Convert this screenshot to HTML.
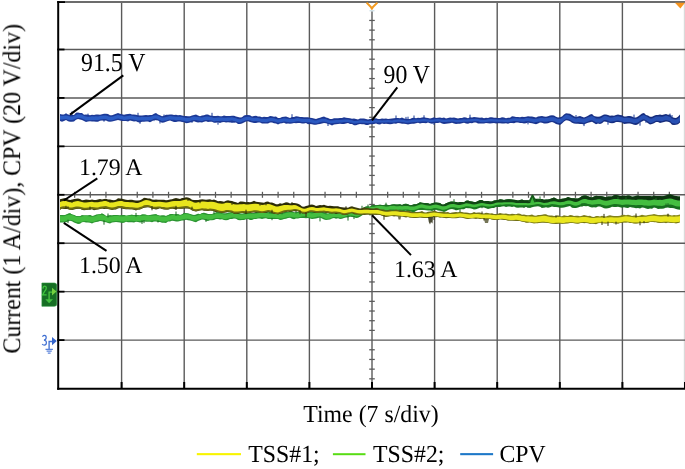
<!DOCTYPE html>
<html><head><meta charset="utf-8"><style>
html,body{margin:0;padding:0;background:#fff;width:685px;height:469px;overflow:hidden}
svg{position:absolute;left:0;top:0}
text{font-family:"Liberation Serif",serif;fill:#000;white-space:pre;text-rendering:geometricPrecision}
</style></head><body>
<svg width="685" height="469" viewBox="0 0 685 469">
<line x1="684.4" y1="2" x2="684.4" y2="388" stroke="#dadada" stroke-width="1.2"/>
<g stroke="#5a5a5a" stroke-width="1.4" fill="none">
<line x1="121.60" y1="2" x2="121.60" y2="388"/>
<line x1="184.20" y1="2" x2="184.20" y2="388"/>
<line x1="246.80" y1="2" x2="246.80" y2="388"/>
<line x1="309.40" y1="2" x2="309.40" y2="388"/>
<line x1="372.00" y1="11.3" x2="372.00" y2="388"/>
<line x1="434.60" y1="2" x2="434.60" y2="388"/>
<line x1="497.20" y1="2" x2="497.20" y2="388"/>
<line x1="559.80" y1="2" x2="559.80" y2="388"/>
<line x1="622.40" y1="2" x2="622.40" y2="388"/>
<line x1="58" y1="49.50" x2="685" y2="49.50"/>
<line x1="58" y1="97.93" x2="685" y2="97.93"/>
<line x1="58" y1="146.36" x2="685" y2="146.36"/>
<line x1="58" y1="194.79" x2="685" y2="194.79"/>
<line x1="58" y1="243.22" x2="685" y2="243.22"/>
<line x1="58" y1="291.65" x2="685" y2="291.65"/>
<line x1="58" y1="340.08" x2="685" y2="340.08"/>
<line x1="58" y1="2.1" x2="685" y2="2.1" stroke-width="2" stroke="#6c6c6c"/>
</g>
<g stroke="#5a5a5a" stroke-width="1.25">
<line x1="369.5" y1="10.76" x2="374.5" y2="10.76" stroke="#c9dde6"/>
<line x1="369.2" y1="20.44" x2="374.8" y2="20.44"/>
<line x1="369.2" y1="30.13" x2="374.8" y2="30.13"/>
<line x1="369.2" y1="39.81" x2="374.8" y2="39.81"/>
<line x1="369.2" y1="59.19" x2="374.8" y2="59.19"/>
<line x1="369.2" y1="68.87" x2="374.8" y2="68.87"/>
<line x1="369.2" y1="78.56" x2="374.8" y2="78.56"/>
<line x1="369.2" y1="88.24" x2="374.8" y2="88.24"/>
<line x1="369.2" y1="107.62" x2="374.8" y2="107.62"/>
<line x1="369.2" y1="117.30" x2="374.8" y2="117.30"/>
<line x1="369.2" y1="126.99" x2="374.8" y2="126.99"/>
<line x1="369.2" y1="136.67" x2="374.8" y2="136.67"/>
<line x1="369.2" y1="156.05" x2="374.8" y2="156.05"/>
<line x1="369.2" y1="165.73" x2="374.8" y2="165.73"/>
<line x1="369.2" y1="175.42" x2="374.8" y2="175.42"/>
<line x1="369.2" y1="185.10" x2="374.8" y2="185.10"/>
<line x1="369.2" y1="204.48" x2="374.8" y2="204.48"/>
<line x1="369.2" y1="214.16" x2="374.8" y2="214.16"/>
<line x1="369.2" y1="223.85" x2="374.8" y2="223.85"/>
<line x1="369.2" y1="233.53" x2="374.8" y2="233.53"/>
<line x1="369.2" y1="252.91" x2="374.8" y2="252.91"/>
<line x1="369.2" y1="262.59" x2="374.8" y2="262.59"/>
<line x1="369.2" y1="272.28" x2="374.8" y2="272.28"/>
<line x1="369.2" y1="281.96" x2="374.8" y2="281.96"/>
<line x1="369.2" y1="301.34" x2="374.8" y2="301.34"/>
<line x1="369.2" y1="311.02" x2="374.8" y2="311.02"/>
<line x1="369.2" y1="320.71" x2="374.8" y2="320.71"/>
<line x1="369.2" y1="330.39" x2="374.8" y2="330.39"/>
<line x1="369.2" y1="349.77" x2="374.8" y2="349.77"/>
<line x1="369.2" y1="359.45" x2="374.8" y2="359.45"/>
<line x1="369.2" y1="369.14" x2="374.8" y2="369.14"/>
<line x1="369.2" y1="378.82" x2="374.8" y2="378.82"/>
<line x1="74.65" y1="191.8" x2="74.65" y2="197.8"/>
<line x1="90.30" y1="191.8" x2="90.30" y2="197.8"/>
<line x1="105.95" y1="191.8" x2="105.95" y2="197.8"/>
<line x1="137.25" y1="191.8" x2="137.25" y2="197.8"/>
<line x1="152.90" y1="191.8" x2="152.90" y2="197.8"/>
<line x1="168.55" y1="191.8" x2="168.55" y2="197.8"/>
<line x1="199.85" y1="191.8" x2="199.85" y2="197.8"/>
<line x1="215.50" y1="191.8" x2="215.50" y2="197.8"/>
<line x1="231.15" y1="191.8" x2="231.15" y2="197.8"/>
<line x1="262.45" y1="191.8" x2="262.45" y2="197.8"/>
<line x1="278.10" y1="191.8" x2="278.10" y2="197.8"/>
<line x1="293.75" y1="191.8" x2="293.75" y2="197.8"/>
<line x1="325.05" y1="191.8" x2="325.05" y2="197.8"/>
<line x1="340.70" y1="191.8" x2="340.70" y2="197.8"/>
<line x1="356.35" y1="191.8" x2="356.35" y2="197.8"/>
<line x1="387.65" y1="191.8" x2="387.65" y2="197.8"/>
<line x1="403.30" y1="191.8" x2="403.30" y2="197.8"/>
<line x1="418.95" y1="191.8" x2="418.95" y2="197.8"/>
<line x1="450.25" y1="191.8" x2="450.25" y2="197.8"/>
<line x1="465.90" y1="191.8" x2="465.90" y2="197.8"/>
<line x1="481.55" y1="191.8" x2="481.55" y2="197.8"/>
<line x1="512.85" y1="191.8" x2="512.85" y2="197.8"/>
<line x1="528.50" y1="191.8" x2="528.50" y2="197.8"/>
<line x1="544.15" y1="191.8" x2="544.15" y2="197.8"/>
<line x1="575.45" y1="191.8" x2="575.45" y2="197.8"/>
<line x1="591.10" y1="191.8" x2="591.10" y2="197.8"/>
<line x1="606.75" y1="191.8" x2="606.75" y2="197.8"/>
<line x1="638.05" y1="191.8" x2="638.05" y2="197.8"/>
<line x1="653.70" y1="191.8" x2="653.70" y2="197.8"/>
<line x1="669.35" y1="191.8" x2="669.35" y2="197.8"/>
</g>
<defs><linearGradient id="gyd" gradientUnits="userSpaceOnUse" x1="60" y1="0" x2="680" y2="0"><stop offset="0" stop-color="#2a2a06"/><stop offset="0.45" stop-color="#2c2c08"/><stop offset="0.55" stop-color="#6a6a14"/><stop offset="1" stop-color="#8a8a1c"/></linearGradient><linearGradient id="ggd" gradientUnits="userSpaceOnUse" x1="60" y1="0" x2="680" y2="0"><stop offset="0" stop-color="#2c9632"/><stop offset="0.45" stop-color="#27902e"/><stop offset="0.62" stop-color="#1b7a22"/><stop offset="1" stop-color="#166e1e"/></linearGradient><linearGradient id="ggt" gradientUnits="userSpaceOnUse" x1="60" y1="0" x2="680" y2="0"><stop offset="0" stop-color="#2c9632"/><stop offset="0.45" stop-color="#27902e"/><stop offset="0.62" stop-color="#124a16"/><stop offset="1" stop-color="#0b300e"/></linearGradient><linearGradient id="gbd" gradientUnits="userSpaceOnUse" x1="60" y1="0" x2="680" y2="0"><stop offset="0" stop-color="#1c3a98"/><stop offset="0.75" stop-color="#1a3590"/><stop offset="1" stop-color="#142a78"/></linearGradient><linearGradient id="gbi" gradientUnits="userSpaceOnUse" x1="60" y1="0" x2="680" y2="0"><stop offset="0" stop-color="#2c5ec6"/><stop offset="0.45" stop-color="#2a58bf"/><stop offset="0.75" stop-color="#2a56bc"/><stop offset="1" stop-color="#2850b2"/></linearGradient></defs>
<path d="M60.0,114.1 L62.0,114.5 L64.0,114.5 L66.0,113.2 L68.0,114.4 L70.0,114.8 L72.0,114.9 L74.0,114.9 L76.0,112.8 L78.0,112.5 L80.0,113.0 L82.0,113.0 L84.0,114.7 L86.0,114.6 L88.0,114.8 L90.0,115.2 L92.0,114.7 L94.0,115.1 L96.0,114.4 L98.0,114.4 L100.0,114.8 L102.0,114.3 L104.0,113.8 L106.0,113.7 L108.0,114.1 L110.0,115.3 L112.0,115.2 L114.0,114.5 L116.0,113.8 L118.0,112.9 L120.0,113.7 L122.0,114.3 L124.0,114.8 L126.0,114.3 L128.0,114.1 L130.0,113.7 L132.0,114.5 L134.0,114.6 L136.0,114.7 L138.0,115.2 L140.0,115.6 L142.0,115.6 L144.0,115.3 L146.0,115.1 L148.0,115.3 L150.0,115.1 L152.0,115.1 L154.0,113.7 L156.0,113.0 L158.0,114.4 L160.0,115.3 L162.0,116.3 L164.0,115.8 L166.0,114.8 L168.0,114.7 L170.0,114.5 L172.0,114.6 L174.0,114.9 L176.0,114.7 L178.0,115.3 L180.0,115.1 L182.0,115.4 L184.0,115.9 L186.0,116.1 L188.0,116.2 L190.0,116.2 L192.0,115.4 L194.0,115.0 L196.0,114.6 L198.0,115.4 L200.0,116.2 L202.0,115.6 L204.0,115.2 L206.0,114.6 L208.0,114.6 L210.0,115.4 L212.0,115.8 L214.0,116.1 L216.0,115.9 L218.0,115.7 L220.0,116.2 L222.0,116.2 L224.0,115.4 L226.0,116.1 L228.0,115.9 L230.0,116.1 L232.0,115.7 L234.0,115.7 L236.0,116.4 L238.0,117.1 L240.0,117.6 L242.0,117.3 L244.0,115.4 L246.0,115.0 L248.0,115.0 L250.0,115.3 L252.0,116.5 L254.0,116.1 L256.0,115.8 L258.0,116.5 L260.0,116.6 L262.0,117.2 L264.0,116.8 L266.0,116.9 L268.0,117.1 L270.0,116.1 L272.0,116.2 L274.0,116.7 L276.0,116.5 L278.0,117.9 L280.0,117.9 L282.0,116.9 L284.0,116.8 L286.0,116.6 L288.0,117.3 L290.0,118.0 L292.0,117.0 L294.0,117.0 L296.0,116.2 L298.0,116.6 L300.0,117.0 L302.0,116.9 L304.0,117.3 L306.0,117.2 L308.0,117.3 L310.0,117.7 L312.0,117.9 L314.0,118.5 L316.0,119.0 L318.0,118.3 L320.0,117.8 L322.0,117.0 L324.0,116.6 L326.0,117.6 L328.0,118.1 L330.0,119.1 L332.0,118.9 L334.0,118.2 L336.0,118.3 L338.0,118.2 L340.0,118.1 L342.0,118.0 L344.0,117.3 L346.0,117.8 L348.0,118.0 L350.0,118.3 L352.0,118.8 L354.0,118.6 L356.0,119.0 L358.0,119.6 L360.0,118.6 L362.0,118.6 L364.0,118.5 L366.0,119.0 L368.0,119.5 L370.0,119.0 L372.0,118.7 L374.0,118.5 L376.0,118.3 L378.0,119.0 L380.0,118.9 L382.0,118.4 L384.0,118.8 L386.0,118.5 L388.0,119.0 L390.0,118.7 L392.0,118.5 L394.0,118.3 L396.0,117.9 L398.0,118.0 L400.0,118.2 L402.0,117.5 L404.0,118.6 L406.0,118.7 L408.0,119.1 L410.0,119.0 L412.0,118.0 L414.0,117.7 L416.0,118.3 L418.0,117.8 L420.0,118.0 L422.0,117.5 L424.0,117.3 L426.0,117.7 L428.0,117.9 L430.0,118.5 L432.0,117.9 L434.0,117.2 L436.0,118.0 L438.0,117.7 L440.0,117.4 L442.0,118.0 L444.0,117.4 L446.0,118.5 L448.0,117.9 L450.0,117.4 L452.0,117.8 L454.0,117.4 L456.0,118.1 L458.0,118.5 L460.0,118.0 L462.0,118.0 L464.0,117.3 L466.0,117.5 L468.0,118.2 L470.0,117.2 L472.0,117.4 L474.0,117.1 L476.0,117.3 L478.0,117.5 L480.0,117.8 L482.0,117.6 L484.0,118.3 L486.0,117.8 L488.0,118.1 L490.0,117.2 L492.0,117.2 L494.0,117.7 L496.0,117.7 L498.0,117.9 L500.0,117.9 L502.0,117.3 L504.0,117.6 L506.0,118.3 L508.0,117.8 L510.0,117.7 L512.0,116.3 L514.0,116.6 L516.0,117.1 L518.0,116.9 L520.0,117.2 L522.0,116.7 L524.0,116.9 L526.0,116.8 L528.0,116.2 L530.0,116.6 L532.0,116.5 L534.0,117.0 L536.0,117.6 L538.0,116.6 L540.0,116.3 L542.0,116.0 L544.0,116.6 L546.0,116.7 L548.0,116.3 L550.0,115.5 L552.0,115.3 L554.0,115.4 L556.0,116.8 L558.0,117.6 L560.0,117.2 L562.0,116.4 L564.0,114.4 L566.0,113.3 L568.0,113.4 L570.0,113.8 L572.0,115.1 L574.0,116.3 L576.0,117.0 L578.0,116.6 L580.0,116.0 L582.0,116.8 L584.0,117.4 L586.0,116.7 L588.0,115.8 L590.0,114.5 L592.0,113.9 L594.0,115.9 L596.0,116.6 L598.0,116.8 L600.0,116.6 L602.0,115.5 L604.0,114.5 L606.0,114.6 L608.0,115.0 L610.0,115.7 L612.0,115.4 L614.0,115.8 L616.0,115.0 L618.0,114.5 L620.0,115.1 L622.0,115.2 L624.0,116.6 L626.0,116.5 L628.0,116.1 L630.0,116.0 L632.0,116.6 L634.0,117.6 L636.0,117.5 L638.0,116.4 L640.0,114.9 L642.0,113.5 L644.0,113.1 L646.0,115.1 L648.0,115.5 L650.0,116.7 L652.0,116.7 L654.0,115.8 L656.0,115.0 L658.0,114.9 L660.0,114.5 L662.0,115.1 L664.0,114.6 L666.0,113.9 L668.0,114.8 L670.0,114.5 L672.0,117.1 L674.0,117.8 L676.0,117.9 L678.0,116.8 L680.0,114.6 L680.0,122.6 L678.0,124.3 L676.0,124.8 L674.0,125.0 L672.0,124.8 L670.0,122.6 L668.0,121.8 L666.0,121.6 L664.0,121.9 L662.0,122.6 L660.0,123.1 L658.0,122.1 L656.0,122.0 L654.0,123.2 L652.0,124.0 L650.0,124.5 L648.0,123.2 L646.0,121.8 L644.0,120.5 L642.0,121.4 L640.0,122.5 L638.0,124.3 L636.0,125.1 L634.0,124.7 L632.0,123.9 L630.0,123.6 L628.0,123.5 L626.0,123.7 L624.0,124.1 L622.0,122.5 L620.0,122.2 L618.0,122.0 L616.0,122.1 L614.0,122.9 L612.0,123.3 L610.0,123.0 L608.0,122.2 L606.0,121.8 L604.0,121.6 L602.0,123.3 L600.0,123.9 L598.0,123.6 L596.0,124.2 L594.0,122.9 L592.0,121.7 L590.0,122.3 L588.0,122.8 L586.0,123.6 L584.0,124.5 L582.0,124.0 L580.0,124.0 L578.0,123.7 L576.0,123.8 L574.0,123.4 L572.0,122.8 L570.0,121.2 L568.0,120.5 L566.0,120.3 L564.0,121.5 L562.0,123.6 L560.0,125.0 L558.0,124.6 L556.0,123.9 L554.0,122.8 L552.0,122.1 L550.0,122.5 L548.0,123.3 L546.0,123.5 L544.0,123.4 L542.0,122.8 L540.0,122.6 L538.0,123.4 L536.0,124.2 L534.0,123.8 L532.0,123.2 L530.0,122.9 L528.0,122.6 L526.0,123.3 L524.0,123.5 L522.0,122.9 L520.0,122.9 L518.0,122.4 L516.0,122.4 L514.0,123.3 L512.0,123.0 L510.0,123.0 L508.0,123.8 L506.0,123.3 L504.0,123.4 L502.0,123.6 L500.0,123.2 L498.0,123.2 L496.0,123.4 L494.0,123.0 L492.0,123.2 L490.0,123.4 L488.0,123.2 L486.0,123.1 L484.0,123.6 L482.0,123.6 L480.0,123.4 L478.0,123.4 L476.0,122.6 L474.0,122.6 L472.0,123.2 L470.0,123.1 L468.0,123.7 L466.0,123.5 L464.0,122.8 L462.0,123.2 L460.0,123.7 L458.0,123.8 L456.0,124.0 L454.0,123.5 L452.0,122.7 L450.0,123.3 L448.0,123.4 L446.0,123.7 L444.0,123.9 L442.0,123.5 L440.0,122.6 L438.0,123.0 L436.0,123.1 L434.0,123.2 L432.0,123.7 L430.0,123.3 L428.0,122.6 L426.0,123.3 L424.0,122.9 L422.0,123.1 L420.0,123.5 L418.0,122.8 L416.0,123.3 L414.0,123.7 L412.0,123.7 L410.0,124.0 L408.0,124.6 L406.0,124.0 L404.0,123.8 L402.0,123.7 L400.0,123.2 L398.0,123.1 L396.0,123.7 L394.0,123.6 L392.0,123.9 L390.0,124.3 L388.0,123.9 L386.0,123.7 L384.0,124.1 L382.0,123.4 L380.0,124.4 L378.0,124.3 L376.0,123.6 L374.0,123.9 L372.0,124.2 L370.0,124.3 L368.0,125.0 L366.0,125.1 L364.0,124.3 L362.0,124.3 L360.0,124.0 L358.0,124.6 L356.0,125.2 L354.0,125.3 L352.0,123.9 L350.0,124.0 L348.0,123.0 L346.0,123.5 L344.0,124.0 L342.0,124.1 L340.0,123.8 L338.0,124.1 L336.0,124.2 L334.0,124.6 L332.0,125.5 L330.0,124.6 L328.0,124.1 L326.0,123.2 L324.0,122.9 L322.0,123.6 L320.0,124.1 L318.0,124.2 L316.0,124.7 L314.0,124.7 L312.0,124.2 L310.0,123.9 L308.0,124.2 L306.0,122.9 L304.0,123.4 L302.0,123.6 L300.0,123.0 L298.0,122.9 L296.0,123.3 L294.0,123.0 L292.0,123.6 L290.0,123.7 L288.0,123.5 L286.0,123.7 L284.0,122.8 L282.0,123.2 L280.0,123.6 L278.0,124.4 L276.0,123.6 L274.0,123.3 L272.0,122.6 L270.0,122.4 L268.0,123.5 L266.0,123.6 L264.0,123.5 L262.0,123.6 L260.0,122.6 L258.0,122.5 L256.0,123.0 L254.0,123.0 L252.0,122.4 L250.0,122.0 L248.0,121.2 L246.0,121.6 L244.0,122.6 L242.0,123.5 L240.0,124.1 L238.0,124.0 L236.0,122.6 L234.0,122.7 L232.0,122.6 L230.0,122.4 L228.0,122.3 L226.0,122.5 L224.0,122.1 L222.0,122.3 L220.0,123.0 L218.0,122.2 L216.0,122.7 L214.0,122.7 L212.0,121.8 L210.0,121.8 L208.0,122.0 L206.0,121.3 L204.0,121.8 L202.0,122.4 L200.0,122.2 L198.0,122.6 L196.0,122.0 L194.0,121.2 L192.0,122.0 L190.0,122.5 L188.0,122.9 L186.0,123.3 L184.0,122.2 L182.0,121.9 L180.0,121.4 L178.0,121.5 L176.0,121.9 L174.0,122.0 L172.0,121.2 L170.0,120.5 L168.0,121.1 L166.0,121.7 L164.0,122.4 L162.0,122.8 L160.0,121.7 L158.0,120.4 L156.0,120.3 L154.0,120.1 L152.0,121.3 L150.0,122.3 L148.0,121.5 L146.0,121.6 L144.0,121.8 L142.0,121.8 L140.0,122.6 L138.0,122.3 L136.0,121.3 L134.0,121.4 L132.0,120.9 L130.0,120.5 L128.0,121.4 L126.0,121.0 L124.0,121.0 L122.0,120.9 L120.0,120.4 L118.0,120.0 L116.0,120.5 L114.0,121.1 L112.0,121.5 L110.0,121.7 L108.0,121.5 L106.0,120.4 L104.0,120.7 L102.0,120.6 L100.0,120.7 L98.0,121.8 L96.0,121.7 L94.0,121.6 L92.0,121.5 L90.0,121.2 L88.0,121.6 L86.0,122.1 L84.0,120.9 L82.0,120.0 L80.0,119.6 L78.0,119.1 L76.0,119.8 L74.0,121.6 L72.0,121.7 L70.0,121.8 L68.0,121.3 L66.0,120.1 L64.0,121.0 L62.0,121.7 L60.0,120.9Z" fill="url(#gbd)"/>
<path d="M60.0,115.8 L62.0,116.0 L64.0,115.8 L66.0,115.5 L68.0,116.1 L70.0,116.5 L72.0,116.5 L74.0,116.0 L76.0,115.0 L78.0,114.3 L80.0,114.4 L82.0,114.8 L84.0,115.9 L86.0,116.6 L88.0,116.7 L90.0,116.7 L92.0,116.3 L94.0,116.4 L96.0,116.3 L98.0,116.4 L100.0,116.0 L102.0,115.7 L104.0,115.4 L106.0,115.5 L108.0,116.3 L110.0,116.8 L112.0,116.7 L114.0,116.2 L116.0,115.4 L118.0,115.1 L120.0,115.4 L122.0,115.8 L124.0,116.5 L126.0,116.3 L128.0,116.0 L130.0,115.5 L132.0,115.8 L134.0,116.3 L136.0,116.6 L138.0,116.9 L140.0,117.2 L142.0,116.8 L144.0,117.0 L146.0,116.9 L148.0,116.9 L150.0,116.8 L152.0,116.2 L154.0,115.4 L156.0,115.2 L158.0,115.7 L160.0,116.8 L162.0,117.5 L164.0,117.4 L166.0,117.0 L168.0,116.4 L170.0,116.0 L172.0,116.3 L174.0,116.4 L176.0,116.8 L178.0,116.7 L180.0,116.7 L182.0,117.1 L184.0,117.4 L186.0,118.1 L188.0,118.0 L190.0,117.7 L192.0,117.0 L194.0,116.5 L196.0,116.8 L198.0,117.1 L200.0,117.3 L202.0,117.6 L204.0,117.0 L206.0,116.6 L208.0,116.6 L210.0,116.9 L212.0,117.3 L214.0,118.0 L216.0,117.8 L218.0,117.6 L220.0,117.5 L222.0,117.4 L224.0,117.7 L226.0,117.7 L228.0,117.5 L230.0,117.4 L232.0,117.2 L234.0,117.7 L236.0,118.3 L238.0,118.9 L240.0,119.2 L242.0,118.4 L244.0,117.6 L246.0,117.0 L248.0,116.7 L250.0,117.0 L252.0,117.7 L254.0,118.0 L256.0,117.8 L258.0,117.9 L260.0,118.4 L262.0,118.8 L264.0,118.8 L266.0,118.9 L268.0,118.4 L270.0,117.9 L272.0,117.9 L274.0,118.3 L276.0,118.9 L278.0,119.5 L280.0,119.1 L282.0,118.8 L284.0,118.3 L286.0,118.5 L288.0,118.8 L290.0,119.1 L292.0,119.0 L294.0,118.9 L296.0,118.2 L298.0,118.1 L300.0,118.4 L302.0,118.8 L304.0,119.0 L306.0,118.9 L308.0,119.1 L310.0,119.1 L312.0,119.6 L314.0,120.3 L316.0,120.6 L318.0,120.0 L320.0,119.3 L322.0,118.8 L324.0,118.8 L326.0,119.1 L328.0,119.9 L330.0,120.5 L332.0,120.5 L334.0,120.2 L336.0,120.0 L338.0,120.0 L340.0,119.9 L342.0,119.7 L344.0,119.4 L346.0,119.4 L348.0,119.4 L350.0,119.9 L352.0,120.2 L354.0,120.9 L356.0,120.9 L358.0,120.7 L360.0,120.2 L362.0,120.3 L364.0,120.4 L366.0,120.8 L368.0,120.9 L370.0,120.8 L372.0,120.4 L374.0,120.2 L376.0,120.1 L378.0,120.3 L380.0,120.3 L382.0,120.4 L384.0,120.3 L386.0,120.2 L388.0,120.1 L390.0,120.3 L392.0,120.4 L394.0,120.1 L396.0,119.8 L398.0,119.5 L400.0,119.5 L402.0,119.8 L404.0,120.1 L406.0,120.5 L408.0,120.6 L410.0,120.3 L412.0,119.9 L414.0,119.6 L416.0,119.6 L418.0,119.5 L420.0,119.4 L422.0,119.3 L424.0,119.1 L426.0,119.3 L428.0,119.5 L430.0,119.8 L432.0,119.8 L434.0,119.5 L436.0,119.3 L438.0,119.1 L440.0,119.2 L442.0,119.6 L444.0,119.7 L446.0,119.7 L448.0,119.5 L450.0,119.4 L452.0,119.3 L454.0,119.5 L456.0,119.9 L458.0,119.9 L460.0,119.7 L462.0,119.6 L464.0,119.3 L466.0,119.4 L468.0,119.3 L470.0,119.3 L472.0,119.1 L474.0,118.9 L476.0,118.8 L478.0,119.0 L480.0,119.5 L482.0,119.8 L484.0,119.9 L486.0,119.7 L488.0,119.3 L490.0,119.1 L492.0,119.1 L494.0,119.3 L496.0,119.3 L498.0,119.4 L500.0,119.4 L502.0,119.4 L504.0,119.4 L506.0,119.6 L508.0,119.5 L510.0,119.2 L512.0,118.6 L514.0,118.3 L516.0,118.3 L518.0,118.4 L520.0,118.6 L522.0,118.7 L524.0,118.7 L526.0,118.1 L528.0,118.1 L530.0,118.2 L532.0,118.5 L534.0,119.1 L536.0,118.8 L538.0,118.4 L540.0,118.1 L542.0,117.7 L544.0,118.3 L546.0,118.1 L548.0,117.9 L550.0,117.3 L552.0,117.2 L554.0,117.3 L556.0,118.2 L558.0,119.0 L560.0,119.1 L562.0,118.1 L564.0,116.3 L566.0,114.8 L568.0,114.9 L570.0,115.8 L572.0,116.9 L574.0,118.1 L576.0,118.4 L578.0,118.0 L580.0,118.1 L582.0,118.5 L584.0,118.8 L586.0,118.3 L588.0,117.3 L590.0,116.5 L592.0,116.1 L594.0,117.1 L596.0,118.4 L598.0,118.4 L600.0,118.6 L602.0,117.4 L604.0,116.0 L606.0,116.0 L608.0,116.7 L610.0,117.6 L612.0,117.4 L614.0,117.0 L616.0,116.5 L618.0,116.2 L620.0,116.7 L622.0,117.3 L624.0,118.0 L626.0,117.7 L628.0,117.8 L630.0,117.9 L632.0,118.3 L634.0,119.1 L636.0,118.8 L638.0,118.4 L640.0,116.8 L642.0,115.4 L644.0,114.9 L646.0,116.0 L648.0,117.2 L650.0,118.6 L652.0,118.5 L654.0,117.4 L656.0,116.4 L658.0,116.4 L660.0,116.6 L662.0,116.8 L664.0,116.3 L666.0,115.6 L668.0,116.2 L670.0,116.7 L672.0,118.6 L674.0,119.3 L676.0,119.4 L678.0,118.6 L680.0,116.7 L680.0,121.1 L678.0,123.0 L676.0,123.7 L674.0,123.6 L672.0,123.0 L670.0,121.0 L668.0,120.6 L666.0,119.9 L664.0,120.6 L662.0,121.2 L660.0,121.0 L658.0,120.7 L656.0,120.8 L654.0,121.7 L652.0,122.8 L650.0,122.9 L648.0,121.5 L646.0,120.3 L644.0,119.2 L642.0,119.7 L640.0,121.0 L638.0,122.6 L636.0,123.1 L634.0,123.3 L632.0,122.6 L630.0,122.1 L628.0,122.0 L626.0,121.9 L624.0,122.2 L622.0,121.5 L620.0,120.9 L618.0,120.4 L616.0,120.7 L614.0,121.2 L612.0,121.6 L610.0,121.8 L608.0,120.8 L606.0,120.1 L604.0,120.1 L602.0,121.5 L600.0,122.8 L598.0,122.6 L596.0,122.5 L594.0,121.2 L592.0,120.2 L590.0,120.6 L588.0,121.4 L586.0,122.3 L584.0,122.9 L582.0,122.5 L580.0,122.2 L578.0,122.0 L576.0,122.5 L574.0,122.1 L572.0,121.0 L570.0,119.8 L568.0,119.0 L566.0,118.8 L564.0,120.3 L562.0,122.1 L560.0,123.1 L558.0,123.0 L556.0,122.1 L554.0,121.2 L552.0,121.0 L550.0,121.0 L548.0,121.6 L546.0,121.8 L544.0,121.8 L542.0,121.2 L540.0,121.5 L538.0,121.8 L536.0,122.1 L534.0,122.4 L532.0,121.8 L530.0,121.4 L528.0,121.2 L526.0,121.2 L524.0,121.7 L522.0,121.7 L520.0,121.5 L518.0,121.3 L516.0,121.1 L514.0,121.1 L512.0,121.4 L510.0,121.8 L508.0,122.2 L506.0,122.1 L504.0,121.9 L502.0,121.8 L500.0,121.8 L498.0,121.8 L496.0,121.7 L494.0,121.7 L492.0,121.4 L490.0,121.5 L488.0,121.7 L486.0,122.0 L484.0,122.2 L482.0,122.2 L480.0,121.9 L478.0,121.3 L476.0,121.2 L474.0,121.2 L472.0,121.5 L470.0,121.6 L468.0,121.7 L466.0,121.7 L464.0,121.7 L462.0,121.9 L460.0,122.1 L458.0,122.2 L456.0,122.2 L454.0,121.8 L452.0,121.6 L450.0,121.7 L448.0,121.8 L446.0,122.0 L444.0,122.0 L442.0,121.9 L440.0,121.5 L438.0,121.4 L436.0,121.6 L434.0,121.8 L432.0,122.1 L430.0,122.1 L428.0,121.7 L426.0,121.6 L424.0,121.4 L422.0,121.6 L420.0,121.7 L418.0,121.8 L416.0,121.9 L414.0,121.9 L412.0,122.2 L410.0,122.5 L408.0,122.8 L406.0,122.8 L404.0,122.3 L402.0,122.0 L400.0,121.7 L398.0,121.7 L396.0,122.0 L394.0,122.4 L392.0,122.6 L390.0,122.5 L388.0,122.3 L386.0,122.4 L384.0,122.5 L382.0,122.6 L380.0,122.5 L378.0,122.5 L376.0,122.4 L374.0,122.4 L372.0,122.7 L370.0,123.1 L368.0,123.3 L366.0,123.1 L364.0,122.8 L362.0,122.8 L360.0,122.7 L358.0,123.1 L356.0,123.4 L354.0,123.4 L352.0,122.8 L350.0,122.5 L348.0,122.0 L346.0,122.0 L344.0,122.1 L342.0,122.4 L340.0,122.6 L338.0,122.7 L336.0,122.7 L334.0,122.9 L332.0,123.3 L330.0,123.3 L328.0,122.7 L326.0,122.0 L324.0,121.7 L322.0,121.7 L320.0,122.3 L318.0,123.0 L316.0,123.6 L314.0,123.3 L312.0,122.7 L310.0,122.2 L308.0,122.2 L306.0,122.0 L304.0,122.1 L302.0,122.0 L300.0,121.6 L298.0,121.3 L296.0,121.4 L294.0,122.1 L292.0,122.2 L290.0,122.3 L288.0,122.0 L286.0,121.7 L284.0,121.5 L282.0,122.0 L280.0,122.3 L278.0,122.8 L276.0,122.1 L274.0,121.5 L272.0,121.1 L270.0,121.2 L268.0,121.7 L266.0,122.2 L264.0,122.1 L262.0,122.1 L260.0,121.6 L258.0,121.2 L256.0,121.1 L254.0,121.3 L252.0,121.0 L250.0,120.3 L248.0,119.9 L246.0,120.3 L244.0,120.9 L242.0,121.7 L240.0,122.5 L238.0,122.2 L236.0,121.6 L234.0,121.0 L232.0,120.5 L230.0,120.7 L228.0,120.9 L226.0,121.0 L224.0,121.0 L222.0,120.8 L220.0,120.9 L218.0,120.9 L216.0,121.1 L214.0,121.4 L212.0,120.6 L210.0,120.2 L208.0,120.0 L206.0,119.9 L204.0,120.3 L202.0,120.9 L200.0,120.7 L198.0,120.5 L196.0,120.1 L194.0,119.9 L192.0,120.4 L190.0,121.1 L188.0,121.4 L186.0,121.5 L184.0,120.8 L182.0,120.5 L180.0,120.1 L178.0,120.1 L176.0,120.2 L174.0,119.8 L172.0,119.7 L170.0,119.4 L168.0,119.8 L166.0,120.4 L164.0,120.8 L162.0,120.9 L160.0,120.3 L158.0,119.2 L156.0,118.6 L154.0,118.8 L152.0,119.7 L150.0,120.3 L148.0,120.3 L146.0,120.4 L144.0,120.5 L142.0,120.3 L140.0,120.6 L138.0,120.4 L136.0,120.0 L134.0,119.8 L132.0,119.3 L130.0,119.0 L128.0,119.5 L126.0,119.8 L124.0,120.0 L122.0,119.3 L120.0,118.9 L118.0,118.6 L116.0,118.9 L114.0,119.7 L112.0,120.2 L110.0,120.3 L108.0,119.9 L106.0,119.0 L104.0,118.9 L102.0,119.2 L100.0,119.5 L98.0,119.9 L96.0,119.9 L94.0,119.9 L92.0,119.9 L90.0,120.2 L88.0,120.3 L86.0,120.2 L84.0,119.4 L82.0,118.4 L80.0,117.9 L78.0,117.8 L76.0,118.6 L74.0,119.6 L72.0,120.1 L70.0,120.1 L68.0,119.7 L66.0,119.1 L64.0,119.3 L62.0,119.6 L60.0,119.4Z" fill="url(#gbi)"/>
<path d="M72,111.4V116.2M88,113.6V116.4M104,119.0V121.7M138,112.8V116.6M140,120.8V123.8M154,119.0V121.1M160,120.4V123.5M164,114.5V117.0M192,120.6V122.8M212,112.8V116.8M218,121.1V124.7M232,120.8V122.9M292,114.2V118.5M328,123.2V126.0M396,115.5V118.8M406,116.9V119.5M408,116.7V119.6M414,115.5V118.7M424,115.3V118.1M434,122.6V124.9M470,114.7V118.4M528,121.5V124.4M576,115.0V118.3M584,122.8V126.1M608,120.7V124.7M634,114.6V119.1M640,120.8V125.7M646,120.1V122.8M670,113.6V116.7M672,115.0V118.7" stroke="#1b3a96" stroke-width="1" fill="none"/>
<path d="M60.0,214.9 L62.0,214.9 L64.0,215.3 L66.0,214.7 L68.0,213.8 L70.0,213.3 L72.0,214.4 L74.0,215.0 L76.0,216.0 L78.0,216.3 L80.0,216.2 L82.0,215.3 L84.0,215.4 L86.0,215.6 L88.0,215.5 L90.0,215.0 L92.0,215.9 L94.0,215.8 L96.0,214.8 L98.0,214.5 L100.0,214.2 L102.0,213.5 L104.0,214.4 L106.0,216.0 L108.0,215.8 L110.0,215.2 L112.0,215.6 L114.0,215.1 L116.0,214.9 L118.0,215.3 L120.0,215.4 L122.0,215.1 L124.0,215.0 L126.0,215.8 L128.0,215.5 L130.0,214.9 L132.0,214.7 L134.0,215.2 L136.0,215.0 L138.0,215.3 L140.0,215.5 L142.0,214.6 L144.0,214.4 L146.0,214.7 L148.0,215.4 L150.0,214.9 L152.0,214.8 L154.0,214.5 L156.0,214.2 L158.0,215.2 L160.0,215.7 L162.0,215.5 L164.0,215.5 L166.0,215.9 L168.0,215.2 L170.0,214.2 L172.0,214.0 L174.0,214.5 L176.0,214.3 L178.0,214.3 L180.0,214.9 L182.0,214.4 L184.0,213.1 L186.0,213.2 L188.0,213.4 L190.0,213.9 L192.0,214.7 L194.0,215.1 L196.0,214.7 L198.0,213.8 L200.0,214.3 L202.0,213.2 L204.0,212.8 L206.0,213.5 L208.0,214.0 L210.0,214.2 L212.0,214.0 L214.0,213.4 L216.0,212.4 L218.0,212.0 L220.0,212.6 L222.0,213.3 L224.0,213.6 L226.0,213.4 L228.0,212.8 L230.0,212.6 L232.0,212.2 L234.0,212.6 L236.0,212.4 L238.0,212.8 L240.0,213.5 L242.0,213.7 L244.0,213.5 L246.0,213.0 L248.0,213.1 L250.0,212.5 L252.0,213.2 L254.0,213.1 L256.0,212.6 L258.0,211.7 L260.0,211.6 L262.0,212.2 L264.0,211.8 L266.0,212.1 L268.0,212.5 L270.0,211.8 L272.0,212.5 L274.0,212.6 L276.0,212.9 L278.0,212.7 L280.0,212.9 L282.0,212.9 L284.0,212.5 L286.0,212.1 L288.0,211.9 L290.0,211.0 L292.0,211.4 L294.0,212.4 L296.0,212.5 L298.0,212.1 L300.0,211.3 L302.0,211.3 L304.0,210.8 L306.0,211.4 L308.0,212.0 L310.0,211.8 L312.0,211.9 L314.0,212.1 L316.0,211.8 L318.0,211.2 L320.0,211.2 L322.0,211.9 L324.0,212.6 L326.0,213.3 L328.0,213.8 L330.0,213.0 L332.0,211.9 L334.0,211.4 L336.0,212.1 L338.0,212.2 L340.0,212.1 L342.0,212.5 L344.0,211.4 L346.0,211.1 L348.0,211.0 L350.0,210.6 L352.0,210.2 L354.0,210.6 L356.0,211.9 L358.0,211.1 L360.0,210.3 L362.0,209.2 L364.0,207.5 L366.0,206.5 L368.0,206.6 L370.0,206.7 L372.0,205.2 L374.0,205.1 L376.0,205.3 L378.0,204.9 L380.0,204.7 L382.0,204.9 L384.0,205.0 L386.0,204.4 L388.0,204.9 L390.0,205.0 L392.0,204.4 L394.0,204.3 L396.0,204.6 L398.0,204.5 L400.0,204.2 L402.0,205.1 L404.0,204.1 L406.0,203.8 L408.0,204.3 L410.0,205.3 L412.0,204.9 L414.0,204.3 L416.0,204.2 L418.0,203.4 L420.0,202.2 L422.0,202.7 L424.0,203.1 L426.0,202.9 L428.0,203.3 L430.0,204.0 L432.0,203.3 L434.0,202.7 L436.0,202.6 L438.0,202.7 L440.0,203.0 L442.0,204.4 L444.0,204.4 L446.0,203.3 L448.0,202.4 L450.0,201.8 L452.0,201.4 L454.0,201.7 L456.0,202.1 L458.0,202.5 L460.0,202.1 L462.0,202.1 L464.0,202.2 L466.0,200.7 L468.0,200.4 L470.0,201.2 L472.0,201.5 L474.0,201.9 L476.0,201.9 L478.0,201.0 L480.0,199.9 L482.0,200.1 L484.0,201.3 L486.0,201.0 L488.0,201.0 L490.0,201.4 L492.0,201.4 L494.0,200.6 L496.0,200.3 L498.0,199.9 L500.0,199.3 L502.0,199.6 L504.0,199.9 L506.0,199.5 L508.0,199.2 L510.0,199.2 L512.0,199.6 L514.0,199.7 L516.0,200.1 L518.0,200.5 L520.0,200.1 L522.0,199.5 L524.0,200.3 L526.0,200.3 L528.0,200.2 L530.0,200.4 L532.0,199.7 L534.0,199.0 L536.0,198.8 L538.0,199.2 L540.0,198.9 L542.0,199.0 L544.0,199.7 L546.0,199.6 L548.0,199.5 L550.0,199.0 L552.0,198.3 L554.0,197.6 L556.0,198.6 L558.0,199.4 L560.0,199.2 L562.0,198.8 L564.0,198.4 L566.0,197.9 L568.0,197.1 L570.0,197.8 L572.0,198.3 L574.0,198.3 L576.0,198.6 L578.0,198.5 L580.0,197.5 L582.0,196.0 L584.0,195.6 L586.0,195.6 L588.0,196.3 L590.0,197.0 L592.0,197.5 L594.0,196.5 L596.0,195.8 L598.0,196.0 L600.0,195.9 L602.0,196.3 L604.0,196.8 L606.0,197.3 L608.0,196.6 L610.0,196.5 L612.0,196.6 L614.0,195.2 L616.0,194.9 L618.0,195.4 L620.0,195.9 L622.0,196.0 L624.0,195.8 L626.0,195.9 L628.0,195.6 L630.0,195.7 L632.0,196.7 L634.0,196.4 L636.0,195.8 L638.0,195.7 L640.0,196.1 L642.0,195.9 L644.0,196.1 L646.0,196.1 L648.0,196.1 L650.0,195.9 L652.0,196.6 L654.0,195.7 L656.0,195.9 L658.0,196.0 L660.0,195.9 L662.0,196.3 L664.0,195.9 L666.0,195.6 L668.0,194.7 L670.0,194.3 L672.0,195.0 L674.0,195.7 L676.0,196.0 L678.0,196.4 L680.0,196.5 L680.0,209.8 L678.0,209.5 L676.0,209.1 L674.0,208.3 L672.0,208.0 L670.0,207.9 L668.0,207.4 L666.0,207.6 L664.0,208.6 L662.0,208.7 L660.0,208.7 L658.0,209.0 L656.0,208.0 L654.0,207.5 L652.0,208.7 L650.0,208.6 L648.0,208.9 L646.0,208.5 L644.0,207.8 L642.0,207.4 L640.0,208.4 L638.0,208.0 L636.0,208.2 L634.0,207.8 L632.0,207.5 L630.0,207.1 L628.0,208.0 L626.0,207.7 L624.0,207.2 L622.0,207.7 L620.0,207.2 L618.0,206.8 L616.0,207.0 L614.0,206.9 L612.0,206.8 L610.0,207.8 L608.0,208.2 L606.0,208.6 L604.0,208.2 L602.0,207.3 L600.0,206.4 L598.0,206.5 L596.0,207.4 L594.0,207.3 L592.0,207.6 L590.0,206.9 L588.0,206.1 L586.0,206.2 L584.0,205.9 L582.0,206.2 L580.0,206.7 L578.0,207.5 L576.0,208.1 L574.0,208.0 L572.0,207.7 L570.0,206.1 L568.0,206.5 L566.0,206.9 L564.0,207.4 L562.0,207.8 L560.0,207.8 L558.0,207.2 L556.0,206.9 L554.0,206.9 L552.0,206.6 L550.0,207.2 L548.0,207.7 L546.0,207.2 L544.0,207.8 L542.0,207.7 L540.0,206.7 L538.0,206.2 L536.0,206.4 L534.0,206.8 L532.0,207.2 L530.0,208.1 L528.0,207.5 L526.0,207.0 L524.0,207.6 L522.0,207.4 L520.0,207.4 L518.0,207.7 L516.0,207.4 L514.0,206.4 L512.0,206.9 L510.0,206.6 L508.0,206.5 L506.0,206.9 L504.0,206.2 L502.0,206.5 L500.0,207.1 L498.0,207.0 L496.0,207.1 L494.0,207.9 L492.0,208.0 L490.0,208.6 L488.0,208.9 L486.0,208.2 L484.0,207.4 L482.0,207.4 L480.0,207.8 L478.0,208.5 L476.0,209.3 L474.0,209.4 L472.0,208.8 L470.0,208.3 L468.0,208.3 L466.0,208.1 L464.0,209.2 L462.0,209.3 L460.0,209.2 L458.0,210.0 L456.0,210.2 L454.0,209.4 L452.0,209.0 L450.0,209.3 L448.0,210.0 L446.0,211.2 L444.0,212.1 L442.0,211.2 L440.0,210.8 L438.0,210.4 L436.0,209.8 L434.0,210.3 L432.0,211.1 L430.0,210.5 L428.0,210.6 L426.0,210.3 L424.0,210.0 L422.0,210.0 L420.0,209.9 L418.0,210.0 L416.0,211.0 L414.0,212.2 L412.0,211.9 L410.0,211.6 L408.0,211.4 L406.0,210.8 L404.0,211.0 L402.0,211.8 L400.0,211.1 L398.0,211.4 L396.0,211.5 L394.0,210.9 L392.0,211.1 L390.0,211.9 L388.0,211.4 L386.0,211.4 L384.0,211.4 L382.0,211.2 L380.0,211.5 L378.0,211.8 L376.0,211.3 L374.0,211.5 L372.0,212.1 L370.0,212.5 L368.0,213.0 L366.0,213.8 L364.0,213.9 L362.0,215.4 L360.0,216.8 L358.0,217.7 L356.0,218.0 L354.0,217.3 L352.0,216.9 L350.0,216.7 L348.0,217.6 L346.0,217.6 L344.0,217.9 L342.0,218.7 L340.0,219.0 L338.0,218.3 L336.0,218.8 L334.0,218.1 L332.0,218.5 L330.0,219.6 L328.0,219.7 L326.0,220.0 L324.0,219.6 L322.0,218.6 L320.0,217.6 L318.0,218.1 L316.0,218.5 L314.0,218.8 L312.0,219.0 L310.0,218.6 L308.0,218.0 L306.0,218.3 L304.0,218.0 L302.0,217.9 L300.0,218.0 L298.0,218.4 L296.0,218.5 L294.0,219.2 L292.0,218.8 L290.0,217.8 L288.0,218.1 L286.0,218.7 L284.0,218.9 L282.0,219.8 L280.0,219.9 L278.0,219.0 L276.0,219.1 L274.0,219.1 L272.0,219.1 L270.0,219.1 L268.0,219.1 L266.0,218.2 L264.0,218.4 L262.0,218.9 L260.0,218.6 L258.0,218.6 L256.0,219.0 L254.0,219.0 L252.0,219.9 L250.0,220.1 L248.0,219.1 L246.0,219.2 L244.0,219.9 L242.0,219.9 L240.0,220.2 L238.0,220.1 L236.0,218.7 L234.0,218.4 L232.0,218.9 L230.0,219.1 L228.0,219.9 L226.0,220.3 L224.0,220.0 L222.0,219.3 L220.0,219.5 L218.0,219.1 L216.0,219.1 L214.0,220.0 L212.0,220.3 L210.0,220.3 L208.0,221.0 L206.0,220.7 L204.0,219.7 L202.0,219.5 L200.0,220.2 L198.0,221.0 L196.0,222.2 L194.0,221.8 L192.0,221.0 L190.0,220.4 L188.0,220.3 L186.0,219.8 L184.0,220.5 L182.0,220.5 L180.0,220.9 L178.0,221.5 L176.0,221.5 L174.0,220.9 L172.0,220.8 L170.0,221.4 L168.0,221.5 L166.0,223.0 L164.0,222.8 L162.0,222.8 L160.0,222.0 L158.0,221.9 L156.0,221.4 L154.0,221.6 L152.0,222.2 L150.0,221.8 L148.0,221.8 L146.0,221.8 L144.0,221.4 L142.0,222.3 L140.0,222.4 L138.0,222.0 L136.0,221.8 L134.0,222.5 L132.0,222.2 L130.0,222.2 L128.0,222.3 L126.0,221.7 L124.0,222.7 L122.0,222.9 L120.0,222.4 L118.0,222.2 L116.0,222.1 L114.0,222.2 L112.0,222.6 L110.0,223.6 L108.0,223.0 L106.0,222.2 L104.0,222.0 L102.0,221.2 L100.0,221.1 L98.0,221.8 L96.0,222.1 L94.0,222.5 L92.0,223.4 L90.0,222.8 L88.0,222.6 L86.0,222.5 L84.0,222.1 L82.0,222.3 L80.0,223.8 L78.0,223.9 L76.0,223.2 L74.0,222.5 L72.0,221.2 L70.0,220.8 L68.0,221.6 L66.0,222.3 L64.0,222.6 L62.0,222.6 L60.0,222.6Z" fill="url(#ggd)"/>
<path d="M60.0,214.9 L62.0,214.9 L64.0,215.3 L66.0,214.7 L68.0,213.8 L70.0,213.3 L72.0,214.4 L74.0,215.0 L76.0,216.0 L78.0,216.3 L80.0,216.2 L82.0,215.3 L84.0,215.4 L86.0,215.6 L88.0,215.5 L90.0,215.0 L92.0,215.9 L94.0,215.8 L96.0,214.8 L98.0,214.5 L100.0,214.2 L102.0,213.5 L104.0,214.4 L106.0,216.0 L108.0,215.8 L110.0,215.2 L112.0,215.6 L114.0,215.1 L116.0,214.9 L118.0,215.3 L120.0,215.4 L122.0,215.1 L124.0,215.0 L126.0,215.8 L128.0,215.5 L130.0,214.9 L132.0,214.7 L134.0,215.2 L136.0,215.0 L138.0,215.3 L140.0,215.5 L142.0,214.6 L144.0,214.4 L146.0,214.7 L148.0,215.4 L150.0,214.9 L152.0,214.8 L154.0,214.5 L156.0,214.2 L158.0,215.2 L160.0,215.7 L162.0,215.5 L164.0,215.5 L166.0,215.9 L168.0,215.2 L170.0,214.2 L172.0,214.0 L174.0,214.5 L176.0,214.3 L178.0,214.3 L180.0,214.9 L182.0,214.4 L184.0,213.1 L186.0,213.2 L188.0,213.4 L190.0,213.9 L192.0,214.7 L194.0,215.1 L196.0,214.7 L198.0,213.8 L200.0,214.3 L202.0,213.2 L204.0,212.8 L206.0,213.5 L208.0,214.0 L210.0,214.2 L212.0,214.0 L214.0,213.4 L216.0,212.4 L218.0,212.0 L220.0,212.6 L222.0,213.3 L224.0,213.6 L226.0,213.4 L228.0,212.8 L230.0,212.6 L232.0,212.2 L234.0,212.6 L236.0,212.4 L238.0,212.8 L240.0,213.5 L242.0,213.7 L244.0,213.5 L246.0,213.0 L248.0,213.1 L250.0,212.5 L252.0,213.2 L254.0,213.1 L256.0,212.6 L258.0,211.7 L260.0,211.6 L262.0,212.2 L264.0,211.8 L266.0,212.1 L268.0,212.5 L270.0,211.8 L272.0,212.5 L274.0,212.6 L276.0,212.9 L278.0,212.7 L280.0,212.9 L282.0,212.9 L284.0,212.5 L286.0,212.1 L288.0,211.9 L290.0,211.0 L292.0,211.4 L294.0,212.4 L296.0,212.5 L298.0,212.1 L300.0,211.3 L302.0,211.3 L304.0,210.8 L306.0,211.4 L308.0,212.0 L310.0,211.8 L312.0,211.9 L314.0,212.1 L316.0,211.8 L318.0,211.2 L320.0,211.2 L322.0,211.9 L324.0,212.6 L326.0,213.3 L328.0,213.8 L330.0,213.0 L332.0,211.9 L334.0,211.4 L336.0,212.1 L338.0,212.2 L340.0,212.1 L342.0,212.5 L344.0,211.4 L346.0,211.1 L348.0,211.0 L350.0,210.6 L352.0,210.2 L354.0,210.6 L356.0,211.9 L358.0,211.1 L360.0,210.3 L362.0,209.2 L364.0,207.5 L366.0,206.5 L368.0,206.6 L370.0,206.7 L372.0,205.2 L374.0,205.1 L376.0,205.3 L378.0,204.9 L380.0,204.7 L382.0,204.9 L384.0,205.0 L386.0,204.4 L388.0,204.9 L390.0,205.0 L392.0,204.4 L394.0,204.3 L396.0,204.6 L398.0,204.5 L400.0,204.2 L402.0,205.1 L404.0,204.1 L406.0,203.8 L408.0,204.3 L410.0,205.3 L412.0,204.9 L414.0,204.3 L416.0,204.2 L418.0,203.4 L420.0,202.2 L422.0,202.7 L424.0,203.1 L426.0,202.9 L428.0,203.3 L430.0,204.0 L432.0,203.3 L434.0,202.7 L436.0,202.6 L438.0,202.7 L440.0,203.0 L442.0,204.4 L444.0,204.4 L446.0,203.3 L448.0,202.4 L450.0,201.8 L452.0,201.4 L454.0,201.7 L456.0,202.1 L458.0,202.5 L460.0,202.1 L462.0,202.1 L464.0,202.2 L466.0,200.7 L468.0,200.4 L470.0,201.2 L472.0,201.5 L474.0,201.9 L476.0,201.9 L478.0,201.0 L480.0,199.9 L482.0,200.1 L484.0,201.3 L486.0,201.0 L488.0,201.0 L490.0,201.4 L492.0,201.4 L494.0,200.6 L496.0,200.3 L498.0,199.9 L500.0,199.3 L502.0,199.6 L504.0,199.9 L506.0,199.5 L508.0,199.2 L510.0,199.2 L512.0,199.6 L514.0,199.7 L516.0,200.1 L518.0,200.5 L520.0,200.1 L522.0,199.5 L524.0,200.3 L526.0,200.3 L528.0,200.2 L530.0,200.4 L532.0,199.7 L534.0,199.0 L536.0,198.8 L538.0,199.2 L540.0,198.9 L542.0,199.0 L544.0,199.7 L546.0,199.6 L548.0,199.5 L550.0,199.0 L552.0,198.3 L554.0,197.6 L556.0,198.6 L558.0,199.4 L560.0,199.2 L562.0,198.8 L564.0,198.4 L566.0,197.9 L568.0,197.1 L570.0,197.8 L572.0,198.3 L574.0,198.3 L576.0,198.6 L578.0,198.5 L580.0,197.5 L582.0,196.0 L584.0,195.6 L586.0,195.6 L588.0,196.3 L590.0,197.0 L592.0,197.5 L594.0,196.5 L596.0,195.8 L598.0,196.0 L600.0,195.9 L602.0,196.3 L604.0,196.8 L606.0,197.3 L608.0,196.6 L610.0,196.5 L612.0,196.6 L614.0,195.2 L616.0,194.9 L618.0,195.4 L620.0,195.9 L622.0,196.0 L624.0,195.8 L626.0,195.9 L628.0,195.6 L630.0,195.7 L632.0,196.7 L634.0,196.4 L636.0,195.8 L638.0,195.7 L640.0,196.1 L642.0,195.9 L644.0,196.1 L646.0,196.1 L648.0,196.1 L650.0,195.9 L652.0,196.6 L654.0,195.7 L656.0,195.9 L658.0,196.0 L660.0,195.9 L662.0,196.3 L664.0,195.9 L666.0,195.6 L668.0,194.7 L670.0,194.3 L672.0,195.0 L674.0,195.7 L676.0,196.0 L678.0,196.4 L680.0,196.5 L680.0,203.0 L678.0,203.0 L676.0,202.6 L674.0,201.9 L672.0,201.3 L670.0,201.0 L668.0,201.2 L666.0,201.5 L664.0,202.0 L662.0,202.5 L660.0,202.3 L658.0,202.3 L656.0,202.1 L654.0,201.9 L652.0,202.3 L650.0,202.5 L648.0,202.5 L646.0,202.2 L644.0,202.1 L642.0,201.8 L640.0,201.9 L638.0,201.8 L636.0,202.2 L634.0,202.0 L632.0,202.0 L630.0,201.7 L628.0,201.6 L626.0,201.5 L624.0,201.6 L622.0,201.9 L620.0,201.5 L618.0,201.2 L616.0,201.1 L614.0,201.1 L612.0,201.6 L610.0,202.1 L608.0,202.6 L606.0,202.8 L604.0,202.4 L602.0,201.9 L600.0,201.3 L598.0,201.2 L596.0,201.6 L594.0,201.9 L592.0,202.1 L590.0,201.8 L588.0,201.4 L586.0,200.8 L584.0,200.7 L582.0,201.2 L580.0,202.1 L578.0,203.0 L576.0,203.5 L574.0,203.2 L572.0,202.5 L570.0,202.0 L568.0,201.9 L566.0,202.2 L564.0,203.0 L562.0,203.2 L560.0,203.4 L558.0,203.1 L556.0,202.7 L554.0,202.4 L552.0,202.4 L550.0,202.8 L548.0,203.4 L546.0,203.7 L544.0,203.7 L542.0,203.2 L540.0,202.9 L538.0,202.5 L536.0,202.7 L534.0,203.2 L532.0,203.6 L530.0,203.8 L528.0,203.9 L526.0,203.9 L524.0,203.9 L522.0,203.8 L520.0,203.9 L518.0,203.8 L516.0,203.7 L514.0,203.3 L512.0,203.1 L510.0,202.9 L508.0,202.9 L506.0,202.9 L504.0,203.0 L502.0,203.3 L500.0,203.2 L498.0,203.3 L496.0,203.5 L494.0,204.3 L492.0,204.8 L490.0,205.1 L488.0,204.9 L486.0,204.7 L484.0,204.2 L482.0,204.0 L480.0,204.2 L478.0,204.7 L476.0,205.4 L474.0,205.5 L472.0,205.4 L470.0,204.8 L468.0,204.5 L466.0,204.5 L464.0,205.2 L462.0,205.7 L460.0,206.2 L458.0,206.2 L456.0,205.9 L454.0,205.4 L452.0,205.3 L450.0,205.7 L448.0,206.4 L446.0,207.3 L444.0,207.8 L442.0,207.8 L440.0,207.1 L438.0,206.6 L436.0,206.1 L434.0,206.3 L432.0,206.9 L430.0,207.2 L428.0,207.0 L426.0,206.8 L424.0,206.4 L422.0,205.9 L420.0,206.2 L418.0,206.9 L416.0,207.6 L414.0,208.2 L412.0,208.2 L410.0,208.2 L408.0,207.7 L406.0,207.6 L404.0,207.6 L402.0,207.9 L400.0,207.8 L398.0,208.0 L396.0,208.0 L394.0,207.6 L392.0,207.8 L390.0,207.8 L388.0,208.2 L386.0,208.2 L384.0,208.3 L382.0,208.0 L380.0,208.0 L378.0,208.0 L376.0,208.3 L374.0,208.7 L372.0,208.7 L370.0,209.2 L368.0,209.7 L366.0,210.3 L364.0,211.1 L362.0,212.3 L360.0,213.4 L358.0,214.3 L356.0,214.7 L354.0,214.2 L352.0,213.7 L350.0,213.7 L348.0,213.7 L346.0,214.3 L344.0,215.0 L342.0,215.5 L340.0,215.6 L338.0,215.2 L336.0,214.9 L334.0,214.9 L332.0,215.6 L330.0,216.3 L328.0,216.6 L326.0,216.8 L324.0,216.0 L322.0,215.3 L320.0,214.6 L318.0,214.5 L316.0,214.9 L314.0,215.4 L312.0,215.8 L310.0,215.4 L308.0,215.1 L306.0,214.5 L304.0,214.2 L302.0,214.5 L300.0,214.8 L298.0,215.5 L296.0,215.5 L294.0,215.5 L292.0,215.0 L290.0,214.6 L288.0,215.0 L286.0,215.3 L284.0,215.8 L282.0,216.3 L280.0,216.3 L278.0,216.2 L276.0,216.0 L274.0,215.6 L272.0,215.8 L270.0,215.6 L268.0,215.6 L266.0,215.3 L264.0,215.1 L262.0,215.1 L260.0,215.1 L258.0,215.6 L256.0,215.9 L254.0,216.2 L252.0,216.3 L250.0,216.1 L248.0,216.1 L246.0,216.3 L244.0,216.7 L242.0,216.9 L240.0,216.8 L238.0,216.4 L236.0,215.9 L234.0,215.5 L232.0,215.4 L230.0,215.8 L228.0,216.3 L226.0,216.8 L224.0,217.0 L222.0,216.5 L220.0,215.9 L218.0,215.8 L216.0,216.0 L214.0,216.4 L212.0,217.2 L210.0,217.4 L208.0,217.3 L206.0,217.1 L204.0,216.6 L202.0,216.4 L200.0,217.0 L198.0,217.6 L196.0,218.3 L194.0,218.4 L192.0,218.1 L190.0,217.2 L188.0,216.7 L186.0,216.6 L184.0,216.7 L182.0,217.4 L180.0,217.8 L178.0,218.0 L176.0,217.8 L174.0,217.6 L172.0,217.4 L170.0,217.9 L168.0,218.4 L166.0,219.3 L164.0,219.2 L162.0,219.3 L160.0,218.8 L158.0,218.4 L156.0,218.1 L154.0,218.0 L152.0,218.3 L150.0,218.4 L148.0,218.4 L146.0,218.1 L144.0,218.1 L142.0,218.4 L140.0,218.6 L138.0,218.7 L136.0,218.7 L134.0,218.5 L132.0,218.3 L130.0,218.5 L128.0,218.6 L126.0,218.8 L124.0,219.0 L122.0,219.1 L120.0,218.9 L118.0,218.7 L116.0,218.8 L114.0,218.8 L112.0,219.1 L110.0,219.4 L108.0,219.5 L106.0,218.9 L104.0,218.3 L102.0,217.8 L100.0,217.6 L98.0,217.8 L96.0,218.6 L94.0,219.4 L92.0,219.6 L90.0,219.3 L88.0,218.9 L86.0,218.5 L84.0,218.8 L82.0,219.2 L80.0,219.7 L78.0,219.9 L76.0,219.5 L74.0,218.5 L72.0,217.8 L70.0,217.6 L68.0,217.7 L66.0,218.2 L64.0,219.0 L62.0,219.0 L60.0,218.8Z" fill="url(#ggt)"/>
<path d="M60.0,216.0 L62.0,216.2 L64.0,216.2 L66.0,215.5 L68.0,214.9 L70.0,214.8 L72.0,215.1 L74.0,215.8 L76.0,216.8 L78.0,217.1 L80.0,217.0 L82.0,216.5 L84.0,216.1 L86.0,215.8 L88.0,216.2 L90.0,216.5 L92.0,216.8 L94.0,216.6 L96.0,215.9 L98.0,215.1 L100.0,214.8 L102.0,215.0 L104.0,215.6 L106.0,216.2 L108.0,216.7 L110.0,216.7 L112.0,216.4 L114.0,216.1 L116.0,216.1 L118.0,216.0 L120.0,216.2 L122.0,216.4 L124.0,216.3 L126.0,216.1 L128.0,215.9 L130.0,215.8 L132.0,215.7 L134.0,215.9 L136.0,216.0 L138.0,216.0 L140.0,216.0 L142.0,215.7 L144.0,215.5 L146.0,215.5 L148.0,215.8 L150.0,215.8 L152.0,215.7 L154.0,215.4 L156.0,215.5 L158.0,215.8 L160.0,216.2 L162.0,216.7 L164.0,216.7 L166.0,216.7 L168.0,215.9 L170.0,215.4 L172.0,214.9 L174.0,215.1 L176.0,215.3 L178.0,215.5 L180.0,215.4 L182.0,215.0 L184.0,214.3 L186.0,214.1 L188.0,214.3 L190.0,214.8 L192.0,215.7 L194.0,216.0 L196.0,215.9 L198.0,215.2 L200.0,214.6 L202.0,214.0 L204.0,214.2 L206.0,214.7 L208.0,214.9 L210.0,215.0 L212.0,214.8 L214.0,214.0 L216.0,213.6 L218.0,213.4 L220.0,213.5 L222.0,214.1 L224.0,214.6 L226.0,214.4 L228.0,213.9 L230.0,213.4 L232.0,213.0 L234.0,213.1 L236.0,213.5 L238.0,214.0 L240.0,214.4 L242.0,214.5 L244.0,214.3 L246.0,213.9 L248.0,213.7 L250.0,213.7 L252.0,213.9 L254.0,213.8 L256.0,213.5 L258.0,213.2 L260.0,212.7 L262.0,212.7 L264.0,212.7 L266.0,212.9 L268.0,213.2 L270.0,213.2 L272.0,213.4 L274.0,213.2 L276.0,213.6 L278.0,213.8 L280.0,213.9 L282.0,213.9 L284.0,213.4 L286.0,212.9 L288.0,212.6 L290.0,212.2 L292.0,212.6 L294.0,213.1 L296.0,213.1 L298.0,213.1 L300.0,212.4 L302.0,212.1 L304.0,211.8 L306.0,212.1 L308.0,212.7 L310.0,213.1 L312.0,213.4 L314.0,213.0 L316.0,212.5 L318.0,212.1 L320.0,212.3 L322.0,212.9 L324.0,213.7 L326.0,214.4 L328.0,214.2 L330.0,213.9 L332.0,213.2 L334.0,212.5 L336.0,212.5 L338.0,212.8 L340.0,213.3 L342.0,213.1 L344.0,212.7 L346.0,212.0 L348.0,211.4 L350.0,211.4 L352.0,211.5 L354.0,212.1 L356.0,212.5 L358.0,212.2 L360.0,211.2 L362.0,210.1 L364.0,209.0 L366.0,208.2 L368.0,207.6 L370.0,207.2 L372.0,206.7 L374.0,206.7 L376.0,206.3 L378.0,206.0 L380.0,206.0 L382.0,206.1 L384.0,206.3 L386.0,206.4 L388.0,206.4 L390.0,206.0 L392.0,206.0 L394.0,205.8 L396.0,206.2 L398.0,206.2 L400.0,206.1 L402.0,206.2 L404.0,205.9 L406.0,205.9 L408.0,206.0 L410.0,206.5 L412.0,206.5 L414.0,206.5 L416.0,205.9 L418.0,205.3 L420.0,204.6 L422.0,204.3 L424.0,204.8 L426.0,205.2 L428.0,205.4 L430.0,205.7 L432.0,205.3 L434.0,204.7 L436.0,204.6 L438.0,205.1 L440.0,205.6 L442.0,206.3 L444.0,206.3 L446.0,205.9 L448.0,205.0 L450.0,204.3 L452.0,204.0 L454.0,204.1 L456.0,204.6 L458.0,204.9 L460.0,204.9 L462.0,204.4 L464.0,204.0 L466.0,203.3 L468.0,203.4 L470.0,203.7 L472.0,204.3 L474.0,204.4 L476.0,204.3 L478.0,203.7 L480.0,203.2 L482.0,203.0 L484.0,203.3 L486.0,203.8 L488.0,204.0 L490.0,204.2 L492.0,204.0 L494.0,203.5 L496.0,202.7 L498.0,202.5 L500.0,202.5 L502.0,202.5 L504.0,202.2 L506.0,202.2 L508.0,202.2 L510.0,202.2 L512.0,202.3 L514.0,202.6 L516.0,203.0 L518.0,203.1 L520.0,203.1 L522.0,203.1 L524.0,203.1 L526.0,203.1 L528.0,203.2 L530.0,203.1 L532.0,202.8 L534.0,202.5 L536.0,201.9 L538.0,201.7 L540.0,202.1 L542.0,202.4 L544.0,202.9 L546.0,202.8 L548.0,202.5 L550.0,201.8 L552.0,201.4 L554.0,201.3 L556.0,201.6 L558.0,202.0 L560.0,202.3 L562.0,202.0 L564.0,201.7 L566.0,201.0 L568.0,200.6 L570.0,200.6 L572.0,201.1 L574.0,201.7 L576.0,202.0 L578.0,201.5 L580.0,200.5 L582.0,199.6 L584.0,199.0 L586.0,199.1 L588.0,199.7 L590.0,200.0 L592.0,200.3 L594.0,200.1 L596.0,199.7 L598.0,199.3 L600.0,199.3 L602.0,200.0 L604.0,200.4 L606.0,200.8 L608.0,200.5 L610.0,200.1 L612.0,199.5 L614.0,199.1 L616.0,199.0 L618.0,199.1 L620.0,199.4 L622.0,199.7 L624.0,199.5 L626.0,199.4 L628.0,199.4 L630.0,199.5 L632.0,199.8 L634.0,199.7 L636.0,199.9 L638.0,199.5 L640.0,199.6 L642.0,199.5 L644.0,199.8 L646.0,199.8 L648.0,200.2 L650.0,200.2 L652.0,199.9 L654.0,199.5 L656.0,199.7 L658.0,199.9 L660.0,199.8 L662.0,200.1 L664.0,199.6 L666.0,199.0 L668.0,198.7 L670.0,198.4 L672.0,198.8 L674.0,199.4 L676.0,200.0 L678.0,200.4 L680.0,200.4 L680.0,206.6 L678.0,206.5 L676.0,206.2 L674.0,205.4 L672.0,204.8 L670.0,204.5 L668.0,204.7 L666.0,205.0 L664.0,205.5 L662.0,206.0 L660.0,205.7 L658.0,205.7 L656.0,205.5 L654.0,205.2 L652.0,205.6 L650.0,205.8 L648.0,205.8 L646.0,205.4 L644.0,205.4 L642.0,205.0 L640.0,205.1 L638.0,204.9 L636.0,205.3 L634.0,205.1 L632.0,205.1 L630.0,204.8 L628.0,204.6 L626.0,204.6 L624.0,204.7 L622.0,204.9 L620.0,204.5 L618.0,204.2 L616.0,204.0 L614.0,204.1 L612.0,204.5 L610.0,205.0 L608.0,205.4 L606.0,205.7 L604.0,205.2 L602.0,204.7 L600.0,204.1 L598.0,203.9 L596.0,204.3 L594.0,204.6 L592.0,204.8 L590.0,204.3 L588.0,203.9 L586.0,203.3 L584.0,203.1 L582.0,203.6 L580.0,204.5 L578.0,205.3 L576.0,205.8 L574.0,205.4 L572.0,204.7 L570.0,204.1 L568.0,204.0 L566.0,204.3 L564.0,205.0 L562.0,205.2 L560.0,205.3 L558.0,205.0 L556.0,204.5 L554.0,204.2 L552.0,204.1 L550.0,204.5 L548.0,205.1 L546.0,205.3 L544.0,205.3 L542.0,204.7 L540.0,204.3 L538.0,203.9 L536.0,204.2 L534.0,204.7 L532.0,205.0 L530.0,205.3 L528.0,205.4 L526.0,205.3 L524.0,205.3 L522.0,205.3 L520.0,205.3 L518.0,205.2 L516.0,205.2 L514.0,204.8 L512.0,204.5 L510.0,204.3 L508.0,204.3 L506.0,204.3 L504.0,204.4 L502.0,204.7 L500.0,204.6 L498.0,204.7 L496.0,204.9 L494.0,205.7 L492.0,206.3 L490.0,206.6 L488.0,206.4 L486.0,206.2 L484.0,205.8 L482.0,205.6 L480.0,205.8 L478.0,206.4 L476.0,207.0 L474.0,207.2 L472.0,207.1 L470.0,206.5 L468.0,206.3 L466.0,206.3 L464.0,207.0 L462.0,207.5 L460.0,208.0 L458.0,208.1 L456.0,207.8 L454.0,207.3 L452.0,207.2 L450.0,207.6 L448.0,208.4 L446.0,209.3 L444.0,209.7 L442.0,209.7 L440.0,209.0 L438.0,208.5 L436.0,208.0 L434.0,208.1 L432.0,208.7 L430.0,209.1 L428.0,208.8 L426.0,208.7 L424.0,208.3 L422.0,207.8 L420.0,208.0 L418.0,208.7 L416.0,209.4 L414.0,210.0 L412.0,210.0 L410.0,210.0 L408.0,209.5 L406.0,209.4 L404.0,209.4 L402.0,209.7 L400.0,209.6 L398.0,209.8 L396.0,209.7 L394.0,209.4 L392.0,209.6 L390.0,209.6 L388.0,210.0 L386.0,210.0 L384.0,210.0 L382.0,209.7 L380.0,209.7 L378.0,209.7 L376.0,210.0 L374.0,210.4 L372.0,210.4 L370.0,211.0 L368.0,211.4 L366.0,212.0 L364.0,212.9 L362.0,214.1 L360.0,215.2 L358.0,216.2 L356.0,216.5 L354.0,216.1 L352.0,215.6 L350.0,215.6 L348.0,215.6 L346.0,216.3 L344.0,217.0 L342.0,217.5 L340.0,217.7 L338.0,217.2 L336.0,216.9 L334.0,216.9 L332.0,217.6 L330.0,218.4 L328.0,218.7 L326.0,218.9 L324.0,218.1 L322.0,217.3 L320.0,216.7 L318.0,216.6 L316.0,217.0 L314.0,217.4 L312.0,217.8 L310.0,217.5 L308.0,217.2 L306.0,216.6 L304.0,216.3 L302.0,216.6 L300.0,216.9 L298.0,217.6 L296.0,217.6 L294.0,217.6 L292.0,217.1 L290.0,216.7 L288.0,217.1 L286.0,217.4 L284.0,217.9 L282.0,218.4 L280.0,218.4 L278.0,218.3 L276.0,218.1 L274.0,217.7 L272.0,217.9 L270.0,217.7 L268.0,217.7 L266.0,217.4 L264.0,217.2 L262.0,217.2 L260.0,217.2 L258.0,217.7 L256.0,218.0 L254.0,218.3 L252.0,218.4 L250.0,218.2 L248.0,218.2 L246.0,218.4 L244.0,218.8 L242.0,219.0 L240.0,218.9 L238.0,218.5 L236.0,218.0 L234.0,217.6 L232.0,217.5 L230.0,217.9 L228.0,218.4 L226.0,218.9 L224.0,219.1 L222.0,218.6 L220.0,218.0 L218.0,217.9 L216.0,218.1 L214.0,218.5 L212.0,219.3 L210.0,219.5 L208.0,219.4 L206.0,219.2 L204.0,218.7 L202.0,218.5 L200.0,219.1 L198.0,219.7 L196.0,220.4 L194.0,220.5 L192.0,220.2 L190.0,219.3 L188.0,218.8 L186.0,218.7 L184.0,218.9 L182.0,219.6 L180.0,220.0 L178.0,220.2 L176.0,220.0 L174.0,219.8 L172.0,219.6 L170.0,220.2 L168.0,220.7 L166.0,221.5 L164.0,221.5 L162.0,221.6 L160.0,221.1 L158.0,220.7 L156.0,220.4 L154.0,220.3 L152.0,220.6 L150.0,220.7 L148.0,220.7 L146.0,220.4 L144.0,220.5 L142.0,220.7 L140.0,221.0 L138.0,221.0 L136.0,221.0 L134.0,220.9 L132.0,220.7 L130.0,220.8 L128.0,220.9 L126.0,221.2 L124.0,221.4 L122.0,221.5 L120.0,221.3 L118.0,221.1 L116.0,221.1 L114.0,221.2 L112.0,221.5 L110.0,221.8 L108.0,221.9 L106.0,221.3 L104.0,220.7 L102.0,220.2 L100.0,220.0 L98.0,220.3 L96.0,221.0 L94.0,221.8 L92.0,222.0 L90.0,221.7 L88.0,221.4 L86.0,221.0 L84.0,221.3 L82.0,221.7 L80.0,222.2 L78.0,222.3 L76.0,222.0 L74.0,221.0 L72.0,220.3 L70.0,220.0 L68.0,220.2 L66.0,220.7 L64.0,221.4 L62.0,221.5 L60.0,221.3Z" fill="#44be40"/>
<path d="M68,219.7V223.1M104,220.3V224.7M108,213.5V217.5M136,212.9V216.7M142,220.4V223.9M144,220.1V223.1M158,220.4V222.5M176,211.5V215.8M206,219.1V221.9M214,210.7V214.4M270,211.4V213.6M272,217.8V220.2M282,209.4V214.3M296,211.0V213.5M306,208.6V212.5M320,216.6V221.4M348,215.7V220.6M354,216.2V219.1M362,205.8V210.3M368,204.5V207.7M370,211.2V215.5M378,210.0V212.3M386,202.7V206.2M388,210.2V212.7M454,199.2V203.4M456,207.9V210.2M460,208.2V212.5M482,206.0V208.2M524,205.9V208.0M528,205.9V208.0M538,198.4V200.5M540,196.4V200.9M542,205.2V208.0M582,203.2V206.7M618,197.0V199.2M626,197.1V199.5M656,197.8V200.1M666,203.5V207.8M668,203.2V207.2" stroke="#1a6a20" stroke-width="1" fill="none"/>
<path d="M528.2,202 L531.6,195.2 L532.6,194.6 L533.6,195.6 L537,202 Z" fill="#155a1a"/>
<path d="M530.2,203 L532.3,197.6 L534.6,203 Z" fill="#3cb83c"/>
<path d="M60.0,199.3 L62.0,198.8 L64.0,198.3 L66.0,198.0 L68.0,199.4 L70.0,200.1 L72.0,199.7 L74.0,199.1 L76.0,198.8 L78.0,198.6 L80.0,198.9 L82.0,200.2 L84.0,200.0 L86.0,199.5 L88.0,199.8 L90.0,200.1 L92.0,199.4 L94.0,200.0 L96.0,200.1 L98.0,199.4 L100.0,199.0 L102.0,199.5 L104.0,198.9 L106.0,198.7 L108.0,199.6 L110.0,199.4 L112.0,199.9 L114.0,200.3 L116.0,199.7 L118.0,198.3 L120.0,198.5 L122.0,198.8 L124.0,199.3 L126.0,199.7 L128.0,200.0 L130.0,199.8 L132.0,199.7 L134.0,200.2 L136.0,200.5 L138.0,200.4 L140.0,200.2 L142.0,199.3 L144.0,197.8 L146.0,197.9 L148.0,198.5 L150.0,198.4 L152.0,199.4 L154.0,199.7 L156.0,199.5 L158.0,199.8 L160.0,199.8 L162.0,199.7 L164.0,199.7 L166.0,200.2 L168.0,200.0 L170.0,199.5 L172.0,199.3 L174.0,198.6 L176.0,198.1 L178.0,198.5 L180.0,199.0 L182.0,197.9 L184.0,197.9 L186.0,197.3 L188.0,197.4 L190.0,198.2 L192.0,199.8 L194.0,200.1 L196.0,199.9 L198.0,200.1 L200.0,199.8 L202.0,199.2 L204.0,199.4 L206.0,199.7 L208.0,199.4 L210.0,199.3 L212.0,199.9 L214.0,199.4 L216.0,200.3 L218.0,201.2 L220.0,201.1 L222.0,201.2 L224.0,201.8 L226.0,200.7 L228.0,200.3 L230.0,200.7 L232.0,201.1 L234.0,201.8 L236.0,202.3 L238.0,202.9 L240.0,201.6 L242.0,201.4 L244.0,201.8 L246.0,202.3 L248.0,202.0 L250.0,202.3 L252.0,201.7 L254.0,200.7 L256.0,201.7 L258.0,202.0 L260.0,202.3 L262.0,202.5 L264.0,202.8 L266.0,201.7 L268.0,201.5 L270.0,202.4 L272.0,202.5 L274.0,203.2 L276.0,204.2 L278.0,204.3 L280.0,203.3 L282.0,203.7 L284.0,203.0 L286.0,202.3 L288.0,202.4 L290.0,203.5 L292.0,202.9 L294.0,202.9 L296.0,203.2 L298.0,203.8 L300.0,204.8 L302.0,206.4 L304.0,206.7 L306.0,205.9 L308.0,205.6 L310.0,204.7 L312.0,204.5 L314.0,205.1 L316.0,206.1 L318.0,205.4 L320.0,205.0 L322.0,205.2 L324.0,204.7 L326.0,205.6 L328.0,206.1 L330.0,205.8 L332.0,206.1 L334.0,206.2 L336.0,206.3 L338.0,206.2 L340.0,207.0 L342.0,207.2 L344.0,207.5 L346.0,207.6 L348.0,207.8 L350.0,206.8 L352.0,206.2 L354.0,207.0 L356.0,207.5 L358.0,207.9 L360.0,208.4 L362.0,208.3 L364.0,207.2 L366.0,208.0 L368.0,207.9 L370.0,208.2 L372.0,208.5 L374.0,208.4 L376.0,208.1 L378.0,208.3 L380.0,209.2 L382.0,209.6 L384.0,209.6 L386.0,210.6 L388.0,210.2 L390.0,209.7 L392.0,210.4 L394.0,210.2 L396.0,209.6 L398.0,210.0 L400.0,210.5 L402.0,210.4 L404.0,211.0 L406.0,211.1 L408.0,210.7 L410.0,211.1 L412.0,212.0 L414.0,212.1 L416.0,211.9 L418.0,212.1 L420.0,211.8 L422.0,211.1 L424.0,212.2 L426.0,212.6 L428.0,211.7 L430.0,211.5 L432.0,211.3 L434.0,210.7 L436.0,211.2 L438.0,212.1 L440.0,211.8 L442.0,211.8 L444.0,212.1 L446.0,212.3 L448.0,212.1 L450.0,213.0 L452.0,212.6 L454.0,212.2 L456.0,212.1 L458.0,212.3 L460.0,211.8 L462.0,212.1 L464.0,212.4 L466.0,212.4 L468.0,212.7 L470.0,213.2 L472.0,213.1 L474.0,212.1 L476.0,212.7 L478.0,212.5 L480.0,212.4 L482.0,213.2 L484.0,213.4 L486.0,212.8 L488.0,213.1 L490.0,213.5 L492.0,213.3 L494.0,213.9 L496.0,214.0 L498.0,213.7 L500.0,212.9 L502.0,213.4 L504.0,213.8 L506.0,213.6 L508.0,213.9 L510.0,214.2 L512.0,213.8 L514.0,214.1 L516.0,214.3 L518.0,213.6 L520.0,213.7 L522.0,214.7 L524.0,214.6 L526.0,215.0 L528.0,215.2 L530.0,215.0 L532.0,214.5 L534.0,215.5 L536.0,215.7 L538.0,214.9 L540.0,215.0 L542.0,214.8 L544.0,214.2 L546.0,214.3 L548.0,215.3 L550.0,215.6 L552.0,215.6 L554.0,216.0 L556.0,215.7 L558.0,215.3 L560.0,216.2 L562.0,216.2 L564.0,215.3 L566.0,215.7 L568.0,216.0 L570.0,215.1 L572.0,215.3 L574.0,216.1 L576.0,215.7 L578.0,215.7 L580.0,216.2 L582.0,215.7 L584.0,215.0 L586.0,215.5 L588.0,216.1 L590.0,215.7 L592.0,216.7 L594.0,217.0 L596.0,216.0 L598.0,215.9 L600.0,216.4 L602.0,215.7 L604.0,216.2 L606.0,216.6 L608.0,215.8 L610.0,215.2 L612.0,215.8 L614.0,216.0 L616.0,215.9 L618.0,216.0 L620.0,215.8 L622.0,215.0 L624.0,214.8 L626.0,215.3 L628.0,214.8 L630.0,215.3 L632.0,215.9 L634.0,215.6 L636.0,215.4 L638.0,216.0 L640.0,215.6 L642.0,214.8 L644.0,215.2 L646.0,215.6 L648.0,214.9 L650.0,214.8 L652.0,214.6 L654.0,213.9 L656.0,214.4 L658.0,214.9 L660.0,215.0 L662.0,214.9 L664.0,214.8 L666.0,214.8 L668.0,214.3 L670.0,215.0 L672.0,215.5 L674.0,214.9 L676.0,215.2 L678.0,215.0 L680.0,214.4 L680.0,221.9 L678.0,222.9 L676.0,223.4 L674.0,223.0 L672.0,222.9 L670.0,222.8 L668.0,222.3 L666.0,223.2 L664.0,222.6 L662.0,222.6 L660.0,223.0 L658.0,222.8 L656.0,222.3 L654.0,222.3 L652.0,221.6 L650.0,222.1 L648.0,223.0 L646.0,223.0 L644.0,222.6 L642.0,223.2 L640.0,222.9 L638.0,223.4 L636.0,223.8 L634.0,223.4 L632.0,223.0 L630.0,222.7 L628.0,222.2 L626.0,222.8 L624.0,222.5 L622.0,222.5 L620.0,223.1 L618.0,223.7 L616.0,223.2 L614.0,223.5 L612.0,222.7 L610.0,222.9 L608.0,223.3 L606.0,223.5 L604.0,223.3 L602.0,223.3 L600.0,223.0 L598.0,223.3 L596.0,224.3 L594.0,223.8 L592.0,223.6 L590.0,223.7 L588.0,223.2 L586.0,223.1 L584.0,223.3 L582.0,222.6 L580.0,223.2 L578.0,223.8 L576.0,223.6 L574.0,223.3 L572.0,222.8 L570.0,222.9 L568.0,223.4 L566.0,223.5 L564.0,223.4 L562.0,223.7 L560.0,223.5 L558.0,223.7 L556.0,223.9 L554.0,223.8 L552.0,223.5 L550.0,223.3 L548.0,223.0 L546.0,222.7 L544.0,222.7 L542.0,222.4 L540.0,222.6 L538.0,223.2 L536.0,223.2 L534.0,223.4 L532.0,223.0 L530.0,222.1 L528.0,222.8 L526.0,222.8 L524.0,221.8 L522.0,221.6 L520.0,220.9 L518.0,220.9 L516.0,221.0 L514.0,220.7 L512.0,220.5 L510.0,220.6 L508.0,220.4 L506.0,220.1 L504.0,220.1 L502.0,219.4 L500.0,219.0 L498.0,220.0 L496.0,220.0 L494.0,220.0 L492.0,219.5 L490.0,218.8 L488.0,219.2 L486.0,219.6 L484.0,219.1 L482.0,218.8 L480.0,218.9 L478.0,218.3 L476.0,218.9 L474.0,218.6 L472.0,218.1 L470.0,218.6 L468.0,219.0 L466.0,218.7 L464.0,218.3 L462.0,217.5 L460.0,217.3 L458.0,218.1 L456.0,218.2 L454.0,218.3 L452.0,218.3 L450.0,217.9 L448.0,217.9 L446.0,218.3 L444.0,217.8 L442.0,217.3 L440.0,217.4 L438.0,217.1 L436.0,217.2 L434.0,217.3 L432.0,217.0 L430.0,217.2 L428.0,218.1 L426.0,218.0 L424.0,218.1 L422.0,217.7 L420.0,217.3 L418.0,217.8 L416.0,218.0 L414.0,217.9 L412.0,217.7 L410.0,217.4 L408.0,217.0 L406.0,217.5 L404.0,217.0 L402.0,216.3 L400.0,216.5 L398.0,216.5 L396.0,216.3 L394.0,216.6 L392.0,216.0 L390.0,216.0 L388.0,216.6 L386.0,216.9 L384.0,216.5 L382.0,215.7 L380.0,214.7 L378.0,214.8 L376.0,214.9 L374.0,214.5 L372.0,214.6 L370.0,214.8 L368.0,214.6 L366.0,214.8 L364.0,215.0 L362.0,214.6 L360.0,214.8 L358.0,214.6 L356.0,214.4 L354.0,214.2 L352.0,213.0 L350.0,213.3 L348.0,214.4 L346.0,214.7 L344.0,215.0 L342.0,214.5 L340.0,213.2 L338.0,213.5 L336.0,214.0 L334.0,213.3 L332.0,213.6 L330.0,212.9 L328.0,212.7 L326.0,213.1 L324.0,212.5 L322.0,212.2 L320.0,212.6 L318.0,212.8 L316.0,213.0 L314.0,212.5 L312.0,211.9 L310.0,211.7 L308.0,212.7 L306.0,213.9 L304.0,213.6 L302.0,213.5 L300.0,211.8 L298.0,211.2 L296.0,211.3 L294.0,211.2 L292.0,211.4 L290.0,211.7 L288.0,211.4 L286.0,211.9 L284.0,212.6 L282.0,212.7 L280.0,213.7 L278.0,214.5 L276.0,214.1 L274.0,214.0 L272.0,212.8 L270.0,211.6 L268.0,212.2 L266.0,212.7 L264.0,212.9 L262.0,213.1 L260.0,212.7 L258.0,212.3 L256.0,212.7 L254.0,212.4 L252.0,212.5 L250.0,212.9 L248.0,213.2 L246.0,213.4 L244.0,213.2 L242.0,212.7 L240.0,212.9 L238.0,213.8 L236.0,213.8 L234.0,213.7 L232.0,212.5 L230.0,211.9 L228.0,212.0 L226.0,212.5 L224.0,212.7 L222.0,213.0 L220.0,212.7 L218.0,211.9 L216.0,212.3 L214.0,211.2 L212.0,210.7 L210.0,210.4 L208.0,210.9 L206.0,210.8 L204.0,210.8 L202.0,210.1 L200.0,210.2 L198.0,211.0 L196.0,211.4 L194.0,211.1 L192.0,210.5 L190.0,208.8 L188.0,208.4 L186.0,208.6 L184.0,208.5 L182.0,208.7 L180.0,208.8 L178.0,208.5 L176.0,209.4 L174.0,208.9 L172.0,208.6 L170.0,209.1 L168.0,209.5 L166.0,209.5 L164.0,209.6 L162.0,209.1 L160.0,208.0 L158.0,209.0 L156.0,209.4 L154.0,209.0 L152.0,208.7 L150.0,207.4 L148.0,207.2 L146.0,207.5 L144.0,207.8 L142.0,208.6 L140.0,209.4 L138.0,209.5 L136.0,210.4 L134.0,209.8 L132.0,209.3 L130.0,209.2 L128.0,209.2 L126.0,209.3 L124.0,209.1 L122.0,208.4 L120.0,207.9 L118.0,208.3 L116.0,209.5 L114.0,209.6 L112.0,209.9 L110.0,209.3 L108.0,209.1 L106.0,208.8 L104.0,208.9 L102.0,208.6 L100.0,208.9 L98.0,209.2 L96.0,209.8 L94.0,210.3 L92.0,209.3 L90.0,209.5 L88.0,209.8 L86.0,210.1 L84.0,210.2 L82.0,209.7 L80.0,208.8 L78.0,208.7 L76.0,208.9 L74.0,209.4 L72.0,210.0 L70.0,209.7 L68.0,209.0 L66.0,209.1 L64.0,208.9 L62.0,208.5 L60.0,209.7Z" fill="url(#gyd)"/>
<path d="M60.0,204.6 L62.0,203.9 L64.0,203.6 L66.0,203.8 L68.0,204.4 L70.0,204.9 L72.0,204.9 L74.0,204.3 L76.0,203.9 L78.0,203.8 L80.0,204.0 L82.0,204.6 L84.0,205.0 L86.0,205.1 L88.0,204.9 L90.0,204.6 L92.0,204.4 L94.0,204.7 L96.0,204.8 L98.0,204.8 L100.0,204.3 L102.0,203.9 L104.0,203.7 L106.0,203.6 L108.0,204.3 L110.0,204.7 L112.0,205.1 L114.0,204.7 L116.0,204.3 L118.0,203.6 L120.0,203.4 L122.0,203.5 L124.0,204.1 L126.0,204.5 L128.0,204.6 L130.0,204.7 L132.0,204.7 L134.0,204.9 L136.0,205.3 L138.0,205.2 L140.0,204.7 L142.0,203.9 L144.0,202.8 L146.0,202.5 L148.0,202.7 L150.0,203.1 L152.0,204.0 L154.0,204.2 L156.0,204.4 L158.0,204.1 L160.0,203.9 L162.0,204.5 L164.0,204.6 L166.0,204.8 L168.0,204.8 L170.0,204.3 L172.0,204.0 L174.0,203.7 L176.0,203.8 L178.0,203.9 L180.0,203.8 L182.0,203.4 L184.0,203.0 L186.0,202.7 L188.0,203.0 L190.0,203.9 L192.0,204.7 L194.0,205.6 L196.0,205.9 L198.0,205.5 L200.0,205.2 L202.0,204.9 L204.0,204.9 L206.0,205.0 L208.0,205.4 L210.0,205.0 L212.0,205.2 L214.0,205.4 L216.0,205.9 L218.0,206.6 L220.0,207.1 L222.0,207.3 L224.0,207.0 L226.0,206.2 L228.0,206.2 L230.0,206.4 L232.0,206.9 L234.0,207.8 L236.0,208.0 L238.0,207.8 L240.0,207.6 L242.0,207.5 L244.0,207.4 L246.0,207.7 L248.0,207.8 L250.0,207.6 L252.0,207.3 L254.0,206.8 L256.0,206.9 L258.0,207.1 L260.0,207.6 L262.0,207.9 L264.0,207.8 L266.0,207.3 L268.0,206.9 L270.0,207.1 L272.0,207.8 L274.0,208.7 L276.0,209.2 L278.0,209.3 L280.0,208.7 L282.0,208.2 L284.0,207.5 L286.0,207.3 L288.0,207.2 L290.0,207.3 L292.0,207.1 L294.0,206.9 L296.0,206.9 L298.0,207.8 L300.0,208.6 L302.0,209.7 L304.0,210.1 L306.0,210.0 L308.0,209.1 L310.0,208.6 L312.0,208.5 L314.0,208.6 L316.0,209.3 L318.0,209.4 L320.0,209.1 L322.0,208.9 L324.0,208.7 L326.0,209.1 L328.0,209.3 L330.0,209.6 L332.0,210.0 L334.0,209.8 L336.0,209.7 L338.0,209.9 L340.0,210.2 L342.0,211.0 L344.0,211.5 L346.0,211.2 L348.0,210.7 L350.0,210.3 L352.0,209.9 L354.0,210.4 L356.0,210.9 L358.0,211.4 L360.0,211.5 L362.0,211.4 L364.0,211.2 L366.0,211.2 L368.0,211.3 L370.0,211.5 L372.0,211.4 L374.0,211.5 L376.0,211.5 L378.0,211.7 L380.0,212.0 L382.0,212.6 L384.0,213.1 L386.0,213.4 L388.0,213.4 L390.0,213.2 L392.0,213.0 L394.0,212.9 L396.0,213.0 L398.0,213.3 L400.0,213.5 L402.0,213.6 L404.0,213.8 L406.0,213.8 L408.0,214.2 L410.0,214.6 L412.0,214.9 L414.0,214.9 L416.0,214.8 L418.0,214.8 L420.0,214.6 L422.0,214.7 L424.0,214.9 L426.0,215.0 L428.0,215.0 L430.0,214.6 L432.0,214.3 L434.0,214.1 L436.0,214.1 L438.0,214.4 L440.0,214.7 L442.0,214.9 L444.0,215.1 L446.0,215.1 L448.0,215.1 L450.0,215.3 L452.0,215.5 L454.0,215.4 L456.0,215.2 L458.0,215.0 L460.0,214.7 L462.0,214.8 L464.0,215.1 L466.0,215.6 L468.0,215.8 L470.0,215.8 L472.0,215.8 L474.0,215.5 L476.0,215.5 L478.0,215.6 L480.0,215.9 L482.0,216.0 L484.0,216.0 L486.0,216.0 L488.0,216.1 L490.0,216.2 L492.0,216.6 L494.0,216.8 L496.0,216.9 L498.0,216.8 L500.0,216.6 L502.0,216.5 L504.0,216.5 L506.0,216.9 L508.0,217.3 L510.0,217.3 L512.0,217.3 L514.0,217.2 L516.0,217.1 L518.0,217.3 L520.0,217.7 L522.0,218.1 L524.0,218.4 L526.0,218.7 L528.0,218.7 L530.0,218.9 L532.0,219.1 L534.0,219.2 L536.0,219.3 L538.0,219.1 L540.0,218.8 L542.0,218.5 L544.0,218.4 L546.0,218.6 L548.0,219.0 L550.0,219.5 L552.0,219.7 L554.0,219.7 L556.0,219.6 L558.0,219.6 L560.0,219.6 L562.0,219.8 L564.0,219.8 L566.0,219.5 L568.0,219.5 L570.0,219.3 L572.0,219.3 L574.0,219.5 L576.0,219.7 L578.0,219.7 L580.0,219.6 L582.0,219.3 L584.0,219.1 L586.0,219.3 L588.0,219.6 L590.0,220.0 L592.0,220.1 L594.0,220.2 L596.0,220.0 L598.0,219.7 L600.0,219.7 L602.0,219.6 L604.0,219.8 L606.0,219.7 L608.0,219.6 L610.0,219.5 L612.0,219.4 L614.0,219.6 L616.0,219.7 L618.0,219.7 L620.0,219.5 L622.0,219.2 L624.0,218.7 L626.0,218.6 L628.0,218.7 L630.0,219.1 L632.0,219.4 L634.0,219.6 L636.0,219.5 L638.0,219.4 L640.0,219.4 L642.0,219.2 L644.0,219.1 L646.0,219.1 L648.0,218.7 L650.0,218.4 L652.0,218.2 L654.0,218.1 L656.0,218.4 L658.0,218.7 L660.0,218.9 L662.0,219.0 L664.0,218.7 L666.0,218.7 L668.0,218.6 L670.0,218.9 L672.0,219.1 L674.0,219.3 L676.0,219.1 L678.0,218.9 L680.0,218.5 L680.0,222.3 L678.0,222.7 L676.0,222.9 L674.0,223.1 L672.0,222.8 L670.0,222.6 L668.0,222.4 L666.0,222.4 L664.0,222.4 L662.0,222.7 L660.0,222.6 L658.0,222.4 L656.0,222.1 L654.0,221.8 L652.0,221.9 L650.0,222.0 L648.0,222.3 L646.0,222.7 L644.0,222.7 L642.0,222.8 L640.0,223.0 L638.0,223.0 L636.0,223.1 L634.0,223.2 L632.0,223.0 L630.0,222.7 L628.0,222.3 L626.0,222.1 L624.0,222.2 L622.0,222.7 L620.0,223.0 L618.0,223.2 L616.0,223.2 L614.0,223.0 L612.0,222.9 L610.0,223.0 L608.0,223.0 L606.0,223.2 L604.0,223.2 L602.0,223.1 L600.0,223.1 L598.0,223.1 L596.0,223.4 L594.0,223.6 L592.0,223.6 L590.0,223.5 L588.0,223.1 L586.0,222.8 L584.0,222.7 L582.0,222.9 L580.0,223.1 L578.0,223.3 L576.0,223.3 L574.0,223.1 L572.0,222.9 L570.0,222.9 L568.0,223.1 L566.0,223.2 L564.0,223.5 L562.0,223.5 L560.0,223.3 L558.0,223.4 L556.0,223.4 L554.0,223.5 L552.0,223.5 L550.0,223.3 L548.0,222.8 L546.0,222.5 L544.0,222.3 L542.0,222.4 L540.0,222.7 L538.0,222.9 L536.0,223.1 L534.0,223.0 L532.0,222.8 L530.0,222.5 L528.0,222.3 L526.0,222.2 L524.0,221.9 L522.0,221.6 L520.0,221.1 L518.0,220.7 L516.0,220.4 L514.0,220.5 L512.0,220.5 L510.0,220.5 L508.0,220.4 L506.0,219.9 L504.0,219.5 L502.0,219.4 L500.0,219.5 L498.0,219.7 L496.0,219.8 L494.0,219.6 L492.0,219.4 L490.0,219.1 L488.0,218.9 L486.0,218.8 L484.0,218.8 L482.0,218.8 L480.0,218.7 L478.0,218.4 L476.0,218.2 L474.0,218.3 L472.0,218.5 L470.0,218.6 L468.0,218.5 L466.0,218.3 L464.0,217.8 L462.0,217.5 L460.0,217.4 L458.0,217.6 L456.0,217.9 L454.0,218.1 L452.0,218.1 L450.0,217.9 L448.0,217.7 L446.0,217.7 L444.0,217.7 L442.0,217.5 L440.0,217.4 L438.0,217.1 L436.0,216.8 L434.0,216.8 L432.0,217.0 L430.0,217.3 L428.0,217.7 L426.0,217.7 L424.0,217.6 L422.0,217.4 L420.0,217.4 L418.0,217.5 L416.0,217.6 L414.0,217.7 L412.0,217.6 L410.0,217.4 L408.0,217.0 L406.0,216.7 L404.0,216.6 L402.0,216.5 L400.0,216.4 L398.0,216.2 L396.0,215.9 L394.0,215.8 L392.0,215.9 L390.0,216.2 L388.0,216.4 L386.0,216.4 L384.0,216.1 L382.0,215.6 L380.0,215.1 L378.0,214.7 L376.0,214.6 L374.0,214.6 L372.0,214.5 L370.0,214.6 L368.0,214.4 L366.0,214.3 L364.0,214.4 L362.0,214.6 L360.0,214.7 L358.0,214.6 L356.0,214.1 L354.0,213.6 L352.0,213.2 L350.0,213.6 L348.0,214.0 L346.0,214.5 L344.0,214.8 L342.0,214.4 L340.0,213.6 L338.0,213.3 L336.0,213.1 L334.0,213.2 L332.0,213.4 L330.0,213.0 L328.0,212.7 L326.0,212.5 L324.0,212.1 L322.0,212.3 L320.0,212.5 L318.0,212.8 L316.0,212.7 L314.0,212.0 L312.0,211.9 L310.0,212.0 L308.0,212.5 L306.0,213.4 L304.0,213.5 L302.0,213.1 L300.0,212.0 L298.0,211.3 L296.0,210.6 L294.0,210.7 L292.0,211.1 L290.0,211.4 L288.0,211.4 L286.0,211.7 L284.0,212.0 L282.0,212.9 L280.0,213.5 L278.0,214.1 L276.0,214.1 L274.0,213.6 L272.0,212.7 L270.0,212.1 L268.0,211.8 L266.0,212.3 L264.0,212.8 L262.0,213.0 L260.0,212.7 L258.0,212.3 L256.0,212.0 L254.0,212.0 L252.0,212.5 L250.0,212.8 L248.0,213.1 L246.0,213.1 L244.0,212.7 L242.0,212.9 L240.0,213.1 L238.0,213.3 L236.0,213.5 L234.0,213.3 L232.0,212.4 L230.0,212.0 L228.0,211.8 L226.0,211.8 L224.0,212.6 L222.0,212.8 L220.0,212.6 L218.0,212.1 L216.0,211.4 L214.0,210.8 L212.0,210.7 L210.0,210.5 L208.0,210.8 L206.0,210.4 L204.0,210.3 L202.0,210.2 L200.0,210.6 L198.0,210.8 L196.0,211.2 L194.0,210.9 L192.0,210.0 L190.0,209.2 L188.0,208.2 L186.0,207.9 L184.0,208.1 L182.0,208.4 L180.0,208.8 L178.0,208.8 L176.0,208.6 L174.0,208.5 L172.0,208.7 L170.0,209.0 L168.0,209.5 L166.0,209.4 L164.0,209.1 L162.0,208.9 L160.0,208.3 L158.0,208.5 L156.0,208.8 L154.0,208.7 L152.0,208.5 L150.0,207.6 L148.0,207.1 L146.0,206.9 L144.0,207.3 L142.0,208.4 L140.0,209.2 L138.0,209.7 L136.0,209.8 L134.0,209.4 L132.0,209.3 L130.0,209.3 L128.0,209.1 L126.0,209.0 L124.0,208.7 L122.0,208.1 L120.0,208.0 L118.0,208.2 L116.0,208.9 L114.0,209.3 L112.0,209.7 L110.0,209.4 L108.0,208.9 L106.0,208.2 L104.0,208.3 L102.0,208.6 L100.0,209.0 L98.0,209.5 L96.0,209.5 L94.0,209.4 L92.0,209.1 L90.0,209.4 L88.0,209.6 L86.0,209.8 L84.0,209.8 L82.0,209.4 L80.0,208.8 L78.0,208.6 L76.0,208.7 L74.0,209.1 L72.0,209.7 L70.0,209.7 L68.0,209.3 L66.0,208.6 L64.0,208.5 L62.0,208.8 L60.0,209.5Z" fill="#6f6d12"/>
<path d="M60.0,201.9 L62.0,201.2 L64.0,201.0 L66.0,201.1 L68.0,201.8 L70.0,202.2 L72.0,202.2 L74.0,201.7 L76.0,201.2 L78.0,201.1 L80.0,201.4 L82.0,202.0 L84.0,202.4 L86.0,202.5 L88.0,202.3 L90.0,202.0 L92.0,201.8 L94.0,202.2 L96.0,202.3 L98.0,202.3 L100.0,201.7 L102.0,201.4 L104.0,201.1 L106.0,201.1 L108.0,201.8 L110.0,202.2 L112.0,202.6 L114.0,202.2 L116.0,201.8 L118.0,201.2 L120.0,201.0 L122.0,201.0 L124.0,201.7 L126.0,202.0 L128.0,202.1 L130.0,202.3 L132.0,202.3 L134.0,202.5 L136.0,202.9 L138.0,202.9 L140.0,202.3 L142.0,201.6 L144.0,200.5 L146.0,200.1 L148.0,200.3 L150.0,200.8 L152.0,201.7 L154.0,201.9 L156.0,202.1 L158.0,201.8 L160.0,201.7 L162.0,202.1 L164.0,202.2 L166.0,202.4 L168.0,202.3 L170.0,201.8 L172.0,201.3 L174.0,201.0 L176.0,201.0 L178.0,201.1 L180.0,200.9 L182.0,200.4 L184.0,200.0 L186.0,199.6 L188.0,199.8 L190.0,200.7 L192.0,201.5 L194.0,202.4 L196.0,202.7 L198.0,202.2 L200.0,202.0 L202.0,201.6 L204.0,201.5 L206.0,201.7 L208.0,202.0 L210.0,201.7 L212.0,201.8 L214.0,202.0 L216.0,202.5 L218.0,203.2 L220.0,203.6 L222.0,203.8 L224.0,203.5 L226.0,202.7 L228.0,202.7 L230.0,202.9 L232.0,203.4 L234.0,204.3 L236.0,204.5 L238.0,204.4 L240.0,204.3 L242.0,204.2 L244.0,204.1 L246.0,204.4 L248.0,204.5 L250.0,204.3 L252.0,204.1 L254.0,203.7 L256.0,203.7 L258.0,204.0 L260.0,204.5 L262.0,204.9 L264.0,204.8 L266.0,204.3 L268.0,203.9 L270.0,204.2 L272.0,204.9 L274.0,205.8 L276.0,206.4 L278.0,206.5 L280.0,205.9 L282.0,205.6 L284.0,205.0 L286.0,205.0 L288.0,205.0 L290.0,205.2 L292.0,205.2 L294.0,205.1 L296.0,205.3 L298.0,206.3 L300.0,207.2 L302.0,208.3 L304.0,208.7 L306.0,208.6 L308.0,207.8 L310.0,207.2 L312.0,207.1 L314.0,207.2 L316.0,207.9 L318.0,208.0 L320.0,207.7 L322.0,207.5 L324.0,207.3 L326.0,207.7 L328.0,207.9 L330.0,208.2 L332.0,208.6 L334.0,208.4 L336.0,208.3 L338.0,208.5 L340.0,208.8 L342.0,209.6 L344.0,210.1 L346.0,209.7 L348.0,209.3 L350.0,208.8 L352.0,208.5 L354.0,208.9 L356.0,209.4 L358.0,209.9 L360.0,210.1 L362.0,209.9 L364.0,209.7 L366.0,209.7 L368.0,209.8 L370.0,210.0 L372.0,209.9 L374.0,210.0 L376.0,210.0 L378.0,210.1 L380.0,210.4 L382.0,211.0 L384.0,211.5 L386.0,211.8 L388.0,211.8 L390.0,211.6 L392.0,211.3 L394.0,211.2 L396.0,211.3 L398.0,211.6 L400.0,211.9 L402.0,212.0 L404.0,212.1 L406.0,212.2 L408.0,212.6 L410.0,213.0 L412.0,213.3 L414.0,213.3 L416.0,213.3 L418.0,213.2 L420.0,213.1 L422.0,213.2 L424.0,213.4 L426.0,213.5 L428.0,213.5 L430.0,213.1 L432.0,212.8 L434.0,212.6 L436.0,212.7 L438.0,212.9 L440.0,213.3 L442.0,213.5 L444.0,213.7 L446.0,213.7 L448.0,213.7 L450.0,213.9 L452.0,214.1 L454.0,214.0 L456.0,213.8 L458.0,213.5 L460.0,213.3 L462.0,213.4 L464.0,213.7 L466.0,214.1 L468.0,214.3 L470.0,214.4 L472.0,214.3 L474.0,214.0 L476.0,213.9 L478.0,214.1 L480.0,214.3 L482.0,214.5 L484.0,214.4 L486.0,214.4 L488.0,214.5 L490.0,214.6 L492.0,214.9 L494.0,215.1 L496.0,215.3 L498.0,215.1 L500.0,214.9 L502.0,214.7 L504.0,214.8 L506.0,215.1 L508.0,215.4 L510.0,215.4 L512.0,215.4 L514.0,215.2 L516.0,215.1 L518.0,215.2 L520.0,215.6 L522.0,215.9 L524.0,216.1 L526.0,216.4 L528.0,216.3 L530.0,216.4 L532.0,216.6 L534.0,216.7 L536.0,216.7 L538.0,216.5 L540.0,216.2 L542.0,215.9 L544.0,215.8 L546.0,216.0 L548.0,216.4 L550.0,216.9 L552.0,217.2 L554.0,217.2 L556.0,217.1 L558.0,217.1 L560.0,217.1 L562.0,217.3 L564.0,217.3 L566.0,217.1 L568.0,217.0 L570.0,216.9 L572.0,216.9 L574.0,217.1 L576.0,217.3 L578.0,217.4 L580.0,217.3 L582.0,217.1 L584.0,216.9 L586.0,217.1 L588.0,217.3 L590.0,217.8 L592.0,218.0 L594.0,218.0 L596.0,217.8 L598.0,217.5 L600.0,217.5 L602.0,217.5 L604.0,217.7 L606.0,217.6 L608.0,217.4 L610.0,217.3 L612.0,217.3 L614.0,217.4 L616.0,217.5 L618.0,217.5 L620.0,217.3 L622.0,217.0 L624.0,216.5 L626.0,216.3 L628.0,216.5 L630.0,216.8 L632.0,217.1 L634.0,217.3 L636.0,217.3 L638.0,217.1 L640.0,217.0 L642.0,216.9 L644.0,216.7 L646.0,216.7 L648.0,216.3 L650.0,216.0 L652.0,215.8 L654.0,215.7 L656.0,216.0 L658.0,216.3 L660.0,216.5 L662.0,216.5 L664.0,216.3 L666.0,216.2 L668.0,216.2 L670.0,216.4 L672.0,216.6 L674.0,216.8 L676.0,216.6 L678.0,216.4 L680.0,216.0 L680.0,221.7 L678.0,222.1 L676.0,222.3 L674.0,222.5 L672.0,222.2 L670.0,222.0 L668.0,221.8 L666.0,221.8 L664.0,221.8 L662.0,222.1 L660.0,222.0 L658.0,221.8 L656.0,221.5 L654.0,221.2 L652.0,221.3 L650.0,221.4 L648.0,221.7 L646.0,222.1 L644.0,222.1 L642.0,222.2 L640.0,222.4 L638.0,222.4 L636.0,222.5 L634.0,222.6 L632.0,222.4 L630.0,222.1 L628.0,221.7 L626.0,221.5 L624.0,221.6 L622.0,222.1 L620.0,222.4 L618.0,222.6 L616.0,222.6 L614.0,222.4 L612.0,222.3 L610.0,222.4 L608.0,222.4 L606.0,222.6 L604.0,222.6 L602.0,222.5 L600.0,222.5 L598.0,222.5 L596.0,222.8 L594.0,223.0 L592.0,223.0 L590.0,222.9 L588.0,222.5 L586.0,222.2 L584.0,222.1 L582.0,222.3 L580.0,222.5 L578.0,222.7 L576.0,222.7 L574.0,222.5 L572.0,222.3 L570.0,222.3 L568.0,222.5 L566.0,222.6 L564.0,222.9 L562.0,222.9 L560.0,222.7 L558.0,222.8 L556.0,222.8 L554.0,222.9 L552.0,222.9 L550.0,222.7 L548.0,222.2 L546.0,221.9 L544.0,221.7 L542.0,221.8 L540.0,222.1 L538.0,222.3 L536.0,222.5 L534.0,222.4 L532.0,222.2 L530.0,221.9 L528.0,221.7 L526.0,221.6 L524.0,221.3 L522.0,221.0 L520.0,220.5 L518.0,220.1 L516.0,219.8 L514.0,219.9 L512.0,219.9 L510.0,219.9 L508.0,219.8 L506.0,219.3 L504.0,218.9 L502.0,218.8 L500.0,218.9 L498.0,219.1 L496.0,219.2 L494.0,219.0 L492.0,218.8 L490.0,218.5 L488.0,218.3 L486.0,218.2 L484.0,218.2 L482.0,218.2 L480.0,218.1 L478.0,217.8 L476.0,217.6 L474.0,217.7 L472.0,217.9 L470.0,218.0 L468.0,217.9 L466.0,217.7 L464.0,217.2 L462.0,216.9 L460.0,216.8 L458.0,217.0 L456.0,217.3 L454.0,217.5 L452.0,217.5 L450.0,217.3 L448.0,217.1 L446.0,217.1 L444.0,217.1 L442.0,216.9 L440.0,216.8 L438.0,216.5 L436.0,216.2 L434.0,216.2 L432.0,216.4 L430.0,216.7 L428.0,217.1 L426.0,217.1 L424.0,217.0 L422.0,216.8 L420.0,216.8 L418.0,216.9 L416.0,217.0 L414.0,217.1 L412.0,217.0 L410.0,216.8 L408.0,216.4 L406.0,216.1 L404.0,216.0 L402.0,215.9 L400.0,215.8 L398.0,215.6 L396.0,215.3 L394.0,215.1 L392.0,215.2 L390.0,215.4 L388.0,215.6 L386.0,215.6 L384.0,215.3 L382.0,214.7 L380.0,214.1 L378.0,213.7 L376.0,213.6 L374.0,213.6 L372.0,213.5 L370.0,213.5 L368.0,213.3 L366.0,213.2 L364.0,213.2 L362.0,213.4 L360.0,213.5 L358.0,213.3 L356.0,212.8 L354.0,212.3 L352.0,211.8 L350.0,212.2 L348.0,212.5 L346.0,213.0 L344.0,213.3 L342.0,212.8 L340.0,212.0 L338.0,211.7 L336.0,211.5 L334.0,211.6 L332.0,211.8 L330.0,211.4 L328.0,211.1 L326.0,210.9 L324.0,210.4 L322.0,210.7 L320.0,210.8 L318.0,211.1 L316.0,211.0 L314.0,210.4 L312.0,210.2 L310.0,210.3 L308.0,210.9 L306.0,211.7 L304.0,211.8 L302.0,211.4 L300.0,210.3 L298.0,209.6 L296.0,208.9 L294.0,209.0 L292.0,209.4 L290.0,209.7 L288.0,209.7 L286.0,210.0 L284.0,210.3 L282.0,211.1 L280.0,211.7 L278.0,212.4 L276.0,212.3 L274.0,211.8 L272.0,210.9 L270.0,210.3 L268.0,210.1 L266.0,210.6 L264.0,211.1 L262.0,211.2 L260.0,210.9 L258.0,210.5 L256.0,210.3 L254.0,210.3 L252.0,210.7 L250.0,211.0 L248.0,211.3 L246.0,211.3 L244.0,210.9 L242.0,211.1 L240.0,211.3 L238.0,211.5 L236.0,211.6 L234.0,211.5 L232.0,210.6 L230.0,210.2 L228.0,209.9 L226.0,209.9 L224.0,210.7 L222.0,210.9 L220.0,210.8 L218.0,210.3 L216.0,209.6 L214.0,209.0 L212.0,208.8 L210.0,208.6 L208.0,208.9 L206.0,208.5 L204.0,208.4 L202.0,208.3 L200.0,208.7 L198.0,208.9 L196.0,209.3 L194.0,209.0 L192.0,208.1 L190.0,207.3 L188.0,206.3 L186.0,205.9 L184.0,206.2 L182.0,206.5 L180.0,206.8 L178.0,206.9 L176.0,206.7 L174.0,206.6 L172.0,206.8 L170.0,207.1 L168.0,207.5 L166.0,207.4 L164.0,207.1 L162.0,206.9 L160.0,206.4 L158.0,206.5 L156.0,206.8 L154.0,206.7 L152.0,206.5 L150.0,205.6 L148.0,205.1 L146.0,204.9 L144.0,205.3 L142.0,206.4 L140.0,207.1 L138.0,207.7 L136.0,207.8 L134.0,207.4 L132.0,207.2 L130.0,207.2 L128.0,207.1 L126.0,207.0 L124.0,206.6 L122.0,206.0 L120.0,206.0 L118.0,206.1 L116.0,206.8 L114.0,207.2 L112.0,207.6 L110.0,207.3 L108.0,206.8 L106.0,206.1 L104.0,206.2 L102.0,206.5 L100.0,206.8 L98.0,207.4 L96.0,207.4 L94.0,207.3 L92.0,207.0 L90.0,207.2 L88.0,207.5 L86.0,207.7 L84.0,207.7 L82.0,207.2 L80.0,206.7 L78.0,206.4 L76.0,206.5 L74.0,207.0 L72.0,207.6 L70.0,207.6 L68.0,207.1 L66.0,206.4 L64.0,206.3 L62.0,206.6 L60.0,207.3Z" fill="#e9e61e"/>
<path d="M66,205.8V208.9M68,206.4V208.6M72,199.6V202.9M90,206.6V209.5M110,200.1V202.7M152,206.0V210.3M176,205.8V209.7M188,198.5V201.0M192,206.7V209.1M200,199.6V203.2M232,201.7V204.9M246,209.7V214.1M260,203.0V205.6M266,202.8V205.3M272,209.8V213.6M292,202.1V205.1M300,210.6V214.2M306,212.0V216.9M346,206.3V209.2M384,215.1V219.8M434,216.1V220.0M482,211.5V214.0M484,218.0V220.5M556,215.4V217.6M602,221.6V225.0M604,213.9V217.8M608,221.6V225.9M616,221.7V224.5M636,213.5V217.5M640,221.4V225.3M644,221.1V223.3M668,213.7V216.6" stroke="#303008" stroke-width="1" fill="none"/>
<path d="M428,217 L433,217 L432.5,223.5 L431,222 L430,224.5 L428.8,222 Z" fill="#2a2a10" opacity="0.85"/>
<path d="M398,216.5 L401,216.5 L400.5,219.5 L398.5,219.5 Z" fill="#3a3a10" opacity="0.7"/>
<path d="M484,219 L489,219 L488,223 L485,223 Z" fill="#3a3a10" opacity="0.7"/>
<g stroke="#000" stroke-width="2.0" fill="none">
<line x1="58.2" y1="1" x2="58.2" y2="389.8"/>
<line x1="57.2" y1="388.8" x2="685" y2="388.8"/>
<line x1="57.2" y1="2.1" x2="65" y2="2.1" stroke-width="1.8"/>
<line x1="57.2" y1="49.50" x2="64.5" y2="49.50" stroke-width="1.8"/>
<line x1="57.2" y1="97.93" x2="64.5" y2="97.93" stroke-width="1.8"/>
<line x1="57.2" y1="146.36" x2="64.5" y2="146.36" stroke-width="1.8"/>
<line x1="57.2" y1="194.79" x2="64.5" y2="194.79" stroke-width="1.8"/>
<line x1="57.2" y1="243.22" x2="64.5" y2="243.22" stroke-width="1.8"/>
<line x1="57.2" y1="291.65" x2="64.5" y2="291.65" stroke-width="1.8"/>
<line x1="57.2" y1="340.08" x2="64.5" y2="340.08" stroke-width="1.8"/>
<line x1="121.60" y1="382" x2="121.60" y2="389"/>
<line x1="184.20" y1="382" x2="184.20" y2="389"/>
<line x1="246.80" y1="382" x2="246.80" y2="389"/>
<line x1="309.40" y1="382" x2="309.40" y2="389"/>
<line x1="372.00" y1="382" x2="372.00" y2="389"/>
<line x1="434.60" y1="382" x2="434.60" y2="389"/>
<line x1="497.20" y1="382" x2="497.20" y2="389"/>
<line x1="559.80" y1="382" x2="559.80" y2="389"/>
<line x1="622.40" y1="382" x2="622.40" y2="389"/>
<line x1="685.00" y1="382" x2="685.00" y2="389"/>
</g>
<path d="M366.6,2.6 L370.9,7.0 L371.9,8.9 L372.9,7.0 L377.4,2.6" fill="none" stroke="#f39a1f" stroke-width="2.0" stroke-linejoin="round"/>
<path d="M674.9,2.7 L685,2.7 L680.4,8.6 Z" fill="#f7941d"/>
<g stroke="#000" stroke-width="2" stroke-linecap="butt">
<line x1="123.3" y1="75.4" x2="70" y2="114.6"/>
<line x1="397.3" y1="87.3" x2="372" y2="120.4"/>
<line x1="97.3" y1="178.3" x2="63.8" y2="200.5"/>
<line x1="63.8" y1="222.8" x2="106.5" y2="250.8"/>
<line x1="372.1" y1="215.2" x2="411" y2="255.1"/>
</g>
<path d="M41.9,283 H54.3 Q56.8,283 56.8,285.5 V303.8 Q56.8,306.3 54.3,306.3 H41.9 Z" fill="#166e24" stroke="#28943a" stroke-width="0.6"/>
<path d="M42.9,288.6 Q43.2,286.1 44.6,286.1 Q46.3,286.1 46.3,288.1 Q46.3,289.6 44.4,291.7 L42.7,294.8 H46.6" fill="none" stroke="#3ec83e" stroke-width="1.25"/>
<path d="M49.1,300 V292.2 H52.3" fill="none" stroke="#4cc840" stroke-width="1.3"/>
<path d="M52,287.8 L56.5,291.6 L52,295.4 Z" fill="#74d040"/>
<path d="M45.3,299.2 H53 L49.15,303.3 Z" fill="#44c040"/>
<path d="M42.4,336.6 Q43.4,335.4 44.5,335.4 Q46.2,335.4 46.2,337.6 Q46.2,339.8 44.0,340.1 Q46.4,340.4 46.4,342.6 Q46.4,345.2 44.3,345.2 Q43.0,345.2 42.2,344.0" fill="none" stroke="#3f6fd2" stroke-width="1.2"/>
<path d="M49.1,349 V341.5 H52.5" fill="none" stroke="#3f6fd2" stroke-width="1.3"/>
<path d="M52,337 L56.8,341.1 L52,345.3 Z" fill="#3565cc"/>
<path d="M45.5,349.3 h7.4 M46.6,351.2 h5.2 M47.8,353.1 h2.8" stroke="#5a82da" stroke-width="1.2"/>
<rect x="196.8" y="453.1" width="44.2" height="2.1" fill="#f8f400"/><rect x="332.9" y="453.2" width="32.6" height="2.0" fill="#58dc14"/><rect x="460.2" y="453.1" width="32.9" height="2.1" fill="#1e78c8"/>
<g style="filter:grayscale(1)">
<text transform="translate(81.0,70.5) scale(1,1.09)" font-size="23.8">91.5 V</text>
<text transform="translate(383.5,82.9) scale(1,1.09)" font-size="23.8">90 V</text>
<text transform="translate(79.0,175.1) scale(1,1.0)" font-size="23.8">1.79 A</text>
<text transform="translate(79.0,273.09999999999997) scale(1,1.0)" font-size="23.8">1.50 A</text>
<text transform="translate(394.0,277.4) scale(1,1.0)" font-size="23.8">1.63 A</text>
<text transform="translate(303.3,422.29999999999995) scale(1,1.035)" font-size="23.8">Time (7 s/div)</text>
<text transform="translate(248.3,462.4) scale(1,1.03)" font-size="23.8">TSS#1;</text>
<text transform="translate(373,462.4) scale(1,1.03)" font-size="23.8">TSS#2;</text>
<text transform="translate(499.5,462.4) scale(1,1.03)" font-size="23.8">CPV</text>
<text transform="translate(20.3,353.59999999999997) rotate(-90) scale(1,1.06)" font-size="23.9">Current (1 A/div), CPV (20 V/div)</text>
</g>
</svg>
</body></html>
